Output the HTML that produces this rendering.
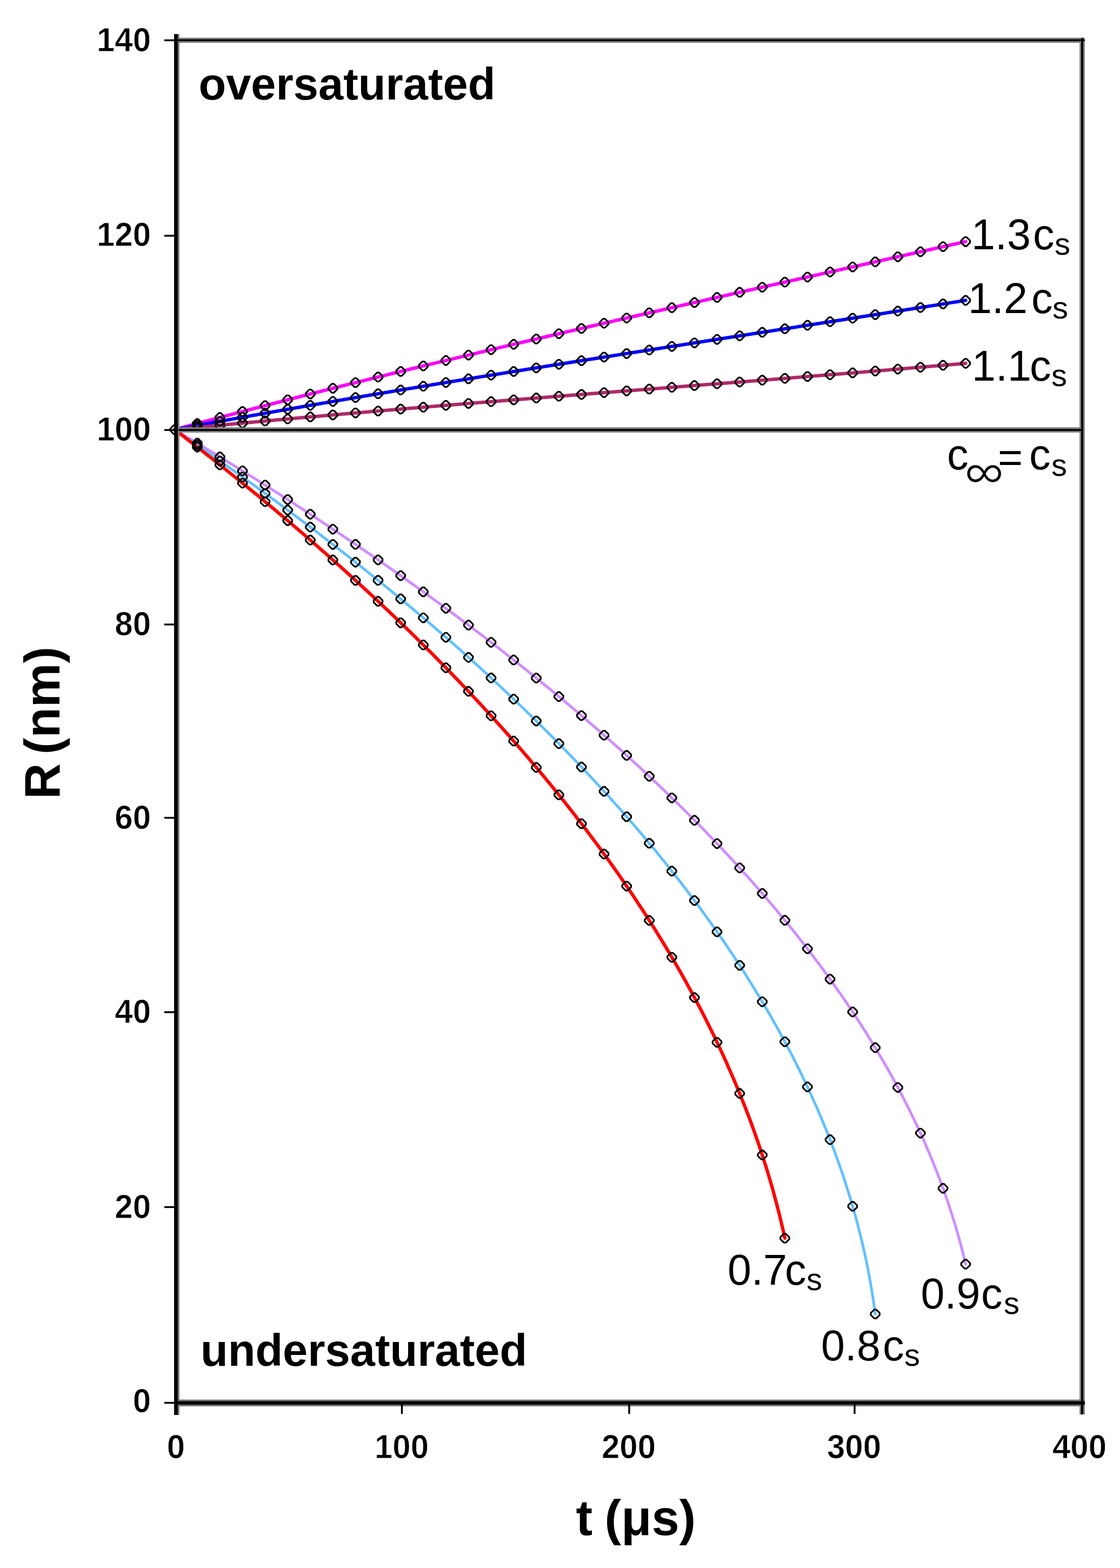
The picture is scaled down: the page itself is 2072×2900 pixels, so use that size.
<!DOCTYPE html><html><head><meta charset="utf-8"><title>R vs t</title><style>html,body{margin:0;padding:0;background:#fff;}svg{display:block;}</style></head><body><svg width="2072" height="2900" viewBox="0 0 2072 2900">
<rect x="0" y="0" width="2072" height="2900" fill="#fff"/>
<polyline points="323.2,794.6 325.3,794.0 327.4,793.5 329.5,792.9 331.6,792.3 333.7,791.8 335.7,791.2 337.8,790.6 339.9,790.1 342.0,789.5 344.1,788.9 346.2,788.4 348.3,787.8 350.4,787.2 352.5,786.7 354.6,786.1 356.6,785.5 358.7,785.0 360.8,784.4 362.9,783.9 365.0,783.3 367.1,782.7 369.2,782.2 371.3,781.6 373.4,781.1 375.5,780.5 377.5,779.9 379.6,779.4 381.7,778.8 383.8,778.3 385.9,777.7 388.0,777.1 390.1,776.6 392.2,776.0 394.3,775.5 396.4,774.9 398.5,774.4 400.5,773.8 402.6,773.2 404.7,772.7 406.8,772.1 408.9,771.6 411.0,771.0 413.1,770.5 415.2,769.9 417.3,769.4 419.4,768.8 421.4,768.3 423.5,767.7 425.6,767.2 427.7,766.6 429.8,766.0 431.9,765.5 434.0,764.9 436.1,764.4 438.2,763.8 440.3,763.3 442.3,762.7 444.4,762.2 446.5,761.6 448.6,761.1 450.7,760.5 452.8,760.0 454.9,759.5 457.0,758.9 459.1,758.4 461.2,757.8 463.3,757.3 465.3,756.7 467.4,756.2 469.5,755.6 471.6,755.1 473.7,754.5 475.8,754.0 477.9,753.4 480.0,752.9 482.1,752.4 484.2,751.8 486.2,751.3 488.3,750.7 490.4,750.2 492.5,749.6 494.6,749.1 496.7,748.6 498.8,748.0 500.9,747.5 503.0,746.9 505.1,746.4 507.1,745.9 509.2,745.3 511.3,744.8 513.4,744.2 515.5,743.7 517.6,743.2 519.7,742.6 521.8,742.1 523.9,741.5 526.0,741.0 528.0,740.5 530.1,739.9 532.2,739.4 534.3,738.9 536.4,738.3 538.5,737.8 540.6,737.2 542.7,736.7 544.8,736.2 546.9,735.6 549.0,735.1 551.0,734.6 553.1,734.0 555.2,733.5 557.3,733.0 559.4,732.4 561.5,731.9 563.6,731.4 565.7,730.8 567.8,730.3 569.9,729.8 571.9,729.2 574.0,728.7 576.1,728.2 578.2,727.7 580.3,727.1 582.4,726.6 584.5,726.1 586.6,725.5 588.7,725.0 590.8,724.5 592.8,723.9 594.9,723.4 597.0,722.9 599.1,722.4 601.2,721.8 603.3,721.3 605.4,720.8 607.5,720.2 609.6,719.7 611.7,719.2 613.8,718.7 615.8,718.1 617.9,717.6 620.0,717.1 622.1,716.6 624.2,716.0 626.3,715.5 628.4,715.0 630.5,714.5 632.6,713.9 634.7,713.4 636.7,712.9 638.8,712.4 640.9,711.8 643.0,711.3 645.1,710.8 647.2,710.3 649.3,709.8 651.4,709.2 653.5,708.7 655.6,708.2 657.6,707.7 659.7,707.2 661.8,706.6 663.9,706.1 666.0,705.6 668.1,705.1 670.2,704.6 672.3,704.0 674.4,703.5 676.5,703.0 678.6,702.5 680.6,702.0 682.7,701.4 684.8,700.9 686.9,700.4 689.0,699.9 691.1,699.4 693.2,698.9 695.3,698.3 697.4,697.8 699.5,697.3 701.5,696.8 703.6,696.3 705.7,695.8 707.8,695.2 709.9,694.7 712.0,694.2 714.1,693.7 716.2,693.2 718.3,692.7 720.4,692.1 722.4,691.6 724.5,691.1 726.6,690.6 728.7,690.1 730.8,689.6 732.9,689.1 735.0,688.6 737.1,688.0 739.2,687.5 741.3,687.0 743.4,686.5 745.4,686.0 747.5,685.5 749.6,685.0 751.7,684.5 753.8,684.0 755.9,683.4 758.0,682.9 760.1,682.4 762.2,681.9 764.3,681.4 766.3,680.9 768.4,680.4 770.5,679.9 772.6,679.4 774.7,678.9 776.8,678.3 778.9,677.8 781.0,677.3 783.1,676.8 785.2,676.3 787.2,675.8 789.3,675.3 791.4,674.8 793.5,674.3 795.6,673.8 797.7,673.3 799.8,672.8 801.9,672.3 804.0,671.8 806.1,671.3 808.1,670.7 810.2,670.2 812.3,669.7 814.4,669.2 816.5,668.7 818.6,668.2 820.7,667.7 822.8,667.2 824.9,666.7 827.0,666.2 829.1,665.7 831.1,665.2 833.2,664.7 835.3,664.2 837.4,663.7 839.5,663.2 841.6,662.7 843.7,662.2 845.8,661.7 847.9,661.2 850.0,660.7 852.0,660.2 854.1,659.7 856.2,659.2 858.3,658.7 860.4,658.2 862.5,657.7 864.6,657.2 866.7,656.7 868.8,656.2 870.9,655.7 872.9,655.2 875.0,654.7 877.1,654.2 879.2,653.7 881.3,653.2 883.4,652.7 885.5,652.2 887.6,651.7 889.7,651.2 891.8,650.7 893.9,650.2 895.9,649.7 898.0,649.2 900.1,648.7 902.2,648.2 904.3,647.7 906.4,647.2 908.5,646.7 910.6,646.2 912.7,645.7 914.8,645.2 916.8,644.7 918.9,644.2 921.0,643.7 923.1,643.2 925.2,642.7 927.3,642.2 929.4,641.8 931.5,641.3 933.6,640.8 935.7,640.3 937.7,639.8 939.8,639.3 941.9,638.8 944.0,638.3 946.1,637.8 948.2,637.3 950.3,636.8 952.4,636.3 954.5,635.8 956.6,635.3 958.7,634.8 960.7,634.3 962.8,633.9 964.9,633.4 967.0,632.9 969.1,632.4 971.2,631.9 973.3,631.4 975.4,630.9 977.5,630.4 979.6,629.9 981.6,629.4 983.7,628.9 985.8,628.5 987.9,628.0 990.0,627.5 992.1,627.0 994.2,626.5 996.3,626.0 998.4,625.5 1000.5,625.0 1002.5,624.5 1004.6,624.0 1006.7,623.6 1008.8,623.1 1010.9,622.6 1013.0,622.1 1015.1,621.6 1017.2,621.1 1019.3,620.6 1021.4,620.1 1023.5,619.6 1025.5,619.2 1027.6,618.7 1029.7,618.2 1031.8,617.7 1033.9,617.2 1036.0,616.7 1038.1,616.2 1040.2,615.7 1042.3,615.3 1044.4,614.8 1046.4,614.3 1048.5,613.8 1050.6,613.3 1052.7,612.8 1054.8,612.3 1056.9,611.9 1059.0,611.4 1061.1,610.9 1063.2,610.4 1065.3,609.9 1067.3,609.4 1069.4,608.9 1071.5,608.5 1073.6,608.0 1075.7,607.5 1077.8,607.0 1079.9,606.5 1082.0,606.0 1084.1,605.5 1086.2,605.1 1088.2,604.6 1090.3,604.1 1092.4,603.6 1094.5,603.1 1096.6,602.6 1098.7,602.2 1100.8,601.7 1102.9,601.2 1105.0,600.7 1107.1,600.2 1109.2,599.7 1111.2,599.3 1113.3,598.8 1115.4,598.3 1117.5,597.8 1119.6,597.3 1121.7,596.9 1123.8,596.4 1125.9,595.9 1128.0,595.4 1130.1,594.9 1132.1,594.4 1134.2,594.0 1136.3,593.5 1138.4,593.0 1140.5,592.5 1142.6,592.0 1144.7,591.6 1146.8,591.1 1148.9,590.6 1151.0,590.1 1153.0,589.6 1155.1,589.2 1157.2,588.7 1159.3,588.2 1161.4,587.7 1163.5,587.2 1165.6,586.8 1167.7,586.3 1169.8,585.8 1171.9,585.3 1174.0,584.8 1176.0,584.4 1178.1,583.9 1180.2,583.4 1182.3,582.9 1184.4,582.4 1186.5,582.0 1188.6,581.5 1190.7,581.0 1192.8,580.5 1194.9,580.0 1196.9,579.6 1199.0,579.1 1201.1,578.6 1203.2,578.1 1205.3,577.7 1207.4,577.2 1209.5,576.7 1211.6,576.2 1213.7,575.7 1215.8,575.3 1217.8,574.8 1219.9,574.3 1222.0,573.8 1224.1,573.4 1226.2,572.9 1228.3,572.4 1230.4,571.9 1232.5,571.5 1234.6,571.0 1236.7,570.5 1238.8,570.0 1240.8,569.5 1242.9,569.1 1245.0,568.6 1247.1,568.1 1249.2,567.6 1251.3,567.2 1253.4,566.7 1255.5,566.2 1257.6,565.7 1259.7,565.3 1261.7,564.8 1263.8,564.3 1265.9,563.8 1268.0,563.4 1270.1,562.9 1272.2,562.4 1274.3,561.9 1276.4,561.5 1278.5,561.0 1280.6,560.5 1282.6,560.0 1284.7,559.6 1286.8,559.1 1288.9,558.6 1291.0,558.1 1293.1,557.7 1295.2,557.2 1297.3,556.7 1299.4,556.2 1301.5,555.8 1303.6,555.3 1305.6,554.8 1307.7,554.3 1309.8,553.9 1311.9,553.4 1314.0,552.9 1316.1,552.5 1318.2,552.0 1320.3,551.5 1322.4,551.0 1324.5,550.6 1326.5,550.1 1328.6,549.6 1330.7,549.1 1332.8,548.7 1334.9,548.2 1337.0,547.7 1339.1,547.3 1341.2,546.8 1343.3,546.3 1345.4,545.8 1347.4,545.4 1349.5,544.9 1351.6,544.4 1353.7,543.9 1355.8,543.5 1357.9,543.0 1360.0,542.5 1362.1,542.1 1364.2,541.6 1366.3,541.1 1368.4,540.6 1370.4,540.2 1372.5,539.7 1374.6,539.2 1376.7,538.8 1378.8,538.3 1380.9,537.8 1383.0,537.3 1385.1,536.9 1387.2,536.4 1389.3,535.9 1391.3,535.5 1393.4,535.0 1395.5,534.5 1397.6,534.0 1399.7,533.6 1401.8,533.1 1403.9,532.6 1406.0,532.2 1408.1,531.7 1410.2,531.2 1412.2,530.7 1414.3,530.3 1416.4,529.8 1418.5,529.3 1420.6,528.9 1422.7,528.4 1424.8,527.9 1426.9,527.4 1429.0,527.0 1431.1,526.5 1433.1,526.0 1435.2,525.6 1437.3,525.1 1439.4,524.6 1441.5,524.2 1443.6,523.7 1445.7,523.2 1447.8,522.7 1449.9,522.3 1452.0,521.8 1454.1,521.3 1456.1,520.9 1458.2,520.4 1460.3,519.9 1462.4,519.5 1464.5,519.0 1466.6,518.5 1468.7,518.0 1470.8,517.6 1472.9,517.1 1475.0,516.6 1477.0,516.2 1479.1,515.7 1481.2,515.2 1483.3,514.8 1485.4,514.3 1487.5,513.8 1489.6,513.4 1491.7,512.9 1493.8,512.4 1495.9,511.9 1497.9,511.5 1500.0,511.0 1502.1,510.5 1504.2,510.1 1506.3,509.6 1508.4,509.1 1510.5,508.7 1512.6,508.2 1514.7,507.7 1516.8,507.3 1518.9,506.8 1520.9,506.3 1523.0,505.8 1525.1,505.4 1527.2,504.9 1529.3,504.4 1531.4,504.0 1533.5,503.5 1535.6,503.0 1537.7,502.6 1539.8,502.1 1541.8,501.6 1543.9,501.2 1546.0,500.7 1548.1,500.2 1550.2,499.8 1552.3,499.3 1554.4,498.8 1556.5,498.4 1558.6,497.9 1560.7,497.4 1562.7,496.9 1564.8,496.5 1566.9,496.0 1569.0,495.5 1571.1,495.1 1573.2,494.6 1575.3,494.1 1577.4,493.7 1579.5,493.2 1581.6,492.7 1583.7,492.3 1585.7,491.8 1587.8,491.3 1589.9,490.9 1592.0,490.4 1594.1,489.9 1596.2,489.5 1598.3,489.0 1600.4,488.5 1602.5,488.0 1604.6,487.6 1606.6,487.1 1608.7,486.6 1610.8,486.2 1612.9,485.7 1615.0,485.2 1617.1,484.8 1619.2,484.3 1621.3,483.8 1623.4,483.4 1625.5,482.9 1627.5,482.4 1629.6,482.0 1631.7,481.5 1633.8,481.0 1635.9,480.6 1638.0,480.1 1640.1,479.6 1642.2,479.2 1644.3,478.7 1646.4,478.2 1648.5,477.8 1650.5,477.3 1652.6,476.8 1654.7,476.3 1656.8,475.9 1658.9,475.4 1661.0,474.9 1663.1,474.5 1665.2,474.0 1667.3,473.5 1669.4,473.1 1671.4,472.6 1673.5,472.1 1675.6,471.7 1677.7,471.2 1679.8,470.7 1681.9,470.3 1684.0,469.8 1686.1,469.3 1688.2,468.9 1690.3,468.4 1692.3,467.9 1694.4,467.5 1696.5,467.0 1698.6,466.5 1700.7,466.1 1702.8,465.6 1704.9,465.1 1707.0,464.6 1709.1,464.2 1711.2,463.7 1713.2,463.2 1715.3,462.8 1717.4,462.3 1719.5,461.8 1721.6,461.4 1723.7,460.9 1725.8,460.4 1727.9,460.0 1730.0,459.5 1732.1,459.0 1734.2,458.6 1736.2,458.1 1738.3,457.6 1740.4,457.2 1742.5,456.7 1744.6,456.2 1746.7,455.8 1748.8,455.3 1750.9,454.8 1753.0,454.3 1755.1,453.9 1757.1,453.4 1759.2,452.9 1761.3,452.5 1763.4,452.0 1765.5,451.5 1767.6,451.1 1769.7,450.6 1771.8,450.1 1773.9,449.7 1776.0,449.2 1778.0,448.7 1780.1,448.3 1782.2,447.8 1784.3,447.3 1786.4,446.9" fill="none" stroke="#FF00FF" stroke-width="6.3" stroke-linejoin="round" stroke-linecap="round"/>
<polyline points="323.2,794.6 325.3,794.2 327.4,793.8 329.5,793.4 331.6,793.0 333.7,792.7 335.7,792.3 337.8,791.9 339.9,791.5 342.0,791.1 344.1,790.7 346.2,790.3 348.3,790.0 350.4,789.6 352.5,789.2 354.6,788.8 356.6,788.4 358.7,788.0 360.8,787.6 362.9,787.3 365.0,786.9 367.1,786.5 369.2,786.1 371.3,785.7 373.4,785.3 375.5,785.0 377.5,784.6 379.6,784.2 381.7,783.8 383.8,783.4 385.9,783.1 388.0,782.7 390.1,782.3 392.2,781.9 394.3,781.5 396.4,781.2 398.5,780.8 400.5,780.4 402.6,780.0 404.7,779.6 406.8,779.3 408.9,778.9 411.0,778.5 413.1,778.1 415.2,777.7 417.3,777.4 419.4,777.0 421.4,776.6 423.5,776.2 425.6,775.9 427.7,775.5 429.8,775.1 431.9,774.7 434.0,774.4 436.1,774.0 438.2,773.6 440.3,773.2 442.3,772.9 444.4,772.5 446.5,772.1 448.6,771.7 450.7,771.4 452.8,771.0 454.9,770.6 457.0,770.2 459.1,769.9 461.2,769.5 463.3,769.1 465.3,768.7 467.4,768.4 469.5,768.0 471.6,767.6 473.7,767.3 475.8,766.9 477.9,766.5 480.0,766.1 482.1,765.8 484.2,765.4 486.2,765.0 488.3,764.7 490.4,764.3 492.5,763.9 494.6,763.6 496.7,763.2 498.8,762.8 500.9,762.4 503.0,762.1 505.1,761.7 507.1,761.3 509.2,761.0 511.3,760.6 513.4,760.2 515.5,759.9 517.6,759.5 519.7,759.1 521.8,758.8 523.9,758.4 526.0,758.0 528.0,757.7 530.1,757.3 532.2,756.9 534.3,756.6 536.4,756.2 538.5,755.8 540.6,755.5 542.7,755.1 544.8,754.8 546.9,754.4 549.0,754.0 551.0,753.7 553.1,753.3 555.2,752.9 557.3,752.6 559.4,752.2 561.5,751.8 563.6,751.5 565.7,751.1 567.8,750.8 569.9,750.4 571.9,750.0 574.0,749.7 576.1,749.3 578.2,748.9 580.3,748.6 582.4,748.2 584.5,747.9 586.6,747.5 588.7,747.1 590.8,746.8 592.8,746.4 594.9,746.1 597.0,745.7 599.1,745.3 601.2,745.0 603.3,744.6 605.4,744.3 607.5,743.9 609.6,743.5 611.7,743.2 613.8,742.8 615.8,742.5 617.9,742.1 620.0,741.8 622.1,741.4 624.2,741.0 626.3,740.7 628.4,740.3 630.5,740.0 632.6,739.6 634.7,739.3 636.7,738.9 638.8,738.5 640.9,738.2 643.0,737.8 645.1,737.5 647.2,737.1 649.3,736.8 651.4,736.4 653.5,736.1 655.6,735.7 657.6,735.3 659.7,735.0 661.8,734.6 663.9,734.3 666.0,733.9 668.1,733.6 670.2,733.2 672.3,732.9 674.4,732.5 676.5,732.2 678.6,731.8 680.6,731.5 682.7,731.1 684.8,730.7 686.9,730.4 689.0,730.0 691.1,729.7 693.2,729.3 695.3,729.0 697.4,728.6 699.5,728.3 701.5,727.9 703.6,727.6 705.7,727.2 707.8,726.9 709.9,726.5 712.0,726.2 714.1,725.8 716.2,725.5 718.3,725.1 720.4,724.8 722.4,724.4 724.5,724.1 726.6,723.7 728.7,723.4 730.8,723.0 732.9,722.7 735.0,722.3 737.1,722.0 739.2,721.6 741.3,721.3 743.4,720.9 745.4,720.6 747.5,720.2 749.6,719.9 751.7,719.5 753.8,719.2 755.9,718.8 758.0,718.5 760.1,718.2 762.2,717.8 764.3,717.5 766.3,717.1 768.4,716.8 770.5,716.4 772.6,716.1 774.7,715.7 776.8,715.4 778.9,715.0 781.0,714.7 783.1,714.3 785.2,714.0 787.2,713.7 789.3,713.3 791.4,713.0 793.5,712.6 795.6,712.3 797.7,711.9 799.8,711.6 801.9,711.2 804.0,710.9 806.1,710.6 808.1,710.2 810.2,709.9 812.3,709.5 814.4,709.2 816.5,708.8 818.6,708.5 820.7,708.1 822.8,707.8 824.9,707.5 827.0,707.1 829.1,706.8 831.1,706.4 833.2,706.1 835.3,705.7 837.4,705.4 839.5,705.1 841.6,704.7 843.7,704.4 845.8,704.0 847.9,703.7 850.0,703.4 852.0,703.0 854.1,702.7 856.2,702.3 858.3,702.0 860.4,701.6 862.5,701.3 864.6,701.0 866.7,700.6 868.8,700.3 870.9,699.9 872.9,699.6 875.0,699.3 877.1,698.9 879.2,698.6 881.3,698.2 883.4,697.9 885.5,697.6 887.6,697.2 889.7,696.9 891.8,696.5 893.9,696.2 895.9,695.9 898.0,695.5 900.1,695.2 902.2,694.9 904.3,694.5 906.4,694.2 908.5,693.8 910.6,693.5 912.7,693.2 914.8,692.8 916.8,692.5 918.9,692.1 921.0,691.8 923.1,691.5 925.2,691.1 927.3,690.8 929.4,690.5 931.5,690.1 933.6,689.8 935.7,689.4 937.7,689.1 939.8,688.8 941.9,688.4 944.0,688.1 946.1,687.8 948.2,687.4 950.3,687.1 952.4,686.8 954.5,686.4 956.6,686.1 958.7,685.7 960.7,685.4 962.8,685.1 964.9,684.7 967.0,684.4 969.1,684.1 971.2,683.7 973.3,683.4 975.4,683.1 977.5,682.7 979.6,682.4 981.6,682.1 983.7,681.7 985.8,681.4 987.9,681.0 990.0,680.7 992.1,680.4 994.2,680.0 996.3,679.7 998.4,679.4 1000.5,679.0 1002.5,678.7 1004.6,678.4 1006.7,678.0 1008.8,677.7 1010.9,677.4 1013.0,677.0 1015.1,676.7 1017.2,676.4 1019.3,676.0 1021.4,675.7 1023.5,675.4 1025.5,675.0 1027.6,674.7 1029.7,674.4 1031.8,674.0 1033.9,673.7 1036.0,673.4 1038.1,673.0 1040.2,672.7 1042.3,672.4 1044.4,672.0 1046.4,671.7 1048.5,671.4 1050.6,671.0 1052.7,670.7 1054.8,670.4 1056.9,670.0 1059.0,669.7 1061.1,669.4 1063.2,669.1 1065.3,668.7 1067.3,668.4 1069.4,668.1 1071.5,667.7 1073.6,667.4 1075.7,667.1 1077.8,666.7 1079.9,666.4 1082.0,666.1 1084.1,665.7 1086.2,665.4 1088.2,665.1 1090.3,664.7 1092.4,664.4 1094.5,664.1 1096.6,663.8 1098.7,663.4 1100.8,663.1 1102.9,662.8 1105.0,662.4 1107.1,662.1 1109.2,661.8 1111.2,661.4 1113.3,661.1 1115.4,660.8 1117.5,660.4 1119.6,660.1 1121.7,659.8 1123.8,659.5 1125.9,659.1 1128.0,658.8 1130.1,658.5 1132.1,658.1 1134.2,657.8 1136.3,657.5 1138.4,657.2 1140.5,656.8 1142.6,656.5 1144.7,656.2 1146.8,655.8 1148.9,655.5 1151.0,655.2 1153.0,654.8 1155.1,654.5 1157.2,654.2 1159.3,653.9 1161.4,653.5 1163.5,653.2 1165.6,652.9 1167.7,652.5 1169.8,652.2 1171.9,651.9 1174.0,651.6 1176.0,651.2 1178.1,650.9 1180.2,650.6 1182.3,650.2 1184.4,649.9 1186.5,649.6 1188.6,649.3 1190.7,648.9 1192.8,648.6 1194.9,648.3 1196.9,647.9 1199.0,647.6 1201.1,647.3 1203.2,647.0 1205.3,646.6 1207.4,646.3 1209.5,646.0 1211.6,645.6 1213.7,645.3 1215.8,645.0 1217.8,644.7 1219.9,644.3 1222.0,644.0 1224.1,643.7 1226.2,643.4 1228.3,643.0 1230.4,642.7 1232.5,642.4 1234.6,642.0 1236.7,641.7 1238.8,641.4 1240.8,641.1 1242.9,640.7 1245.0,640.4 1247.1,640.1 1249.2,639.7 1251.3,639.4 1253.4,639.1 1255.5,638.8 1257.6,638.4 1259.7,638.1 1261.7,637.8 1263.8,637.5 1265.9,637.1 1268.0,636.8 1270.1,636.5 1272.2,636.2 1274.3,635.8 1276.4,635.5 1278.5,635.2 1280.6,634.8 1282.6,634.5 1284.7,634.2 1286.8,633.9 1288.9,633.5 1291.0,633.2 1293.1,632.9 1295.2,632.6 1297.3,632.2 1299.4,631.9 1301.5,631.6 1303.6,631.2 1305.6,630.9 1307.7,630.6 1309.8,630.3 1311.9,629.9 1314.0,629.6 1316.1,629.3 1318.2,629.0 1320.3,628.6 1322.4,628.3 1324.5,628.0 1326.5,627.7 1328.6,627.3 1330.7,627.0 1332.8,626.7 1334.9,626.4 1337.0,626.0 1339.1,625.7 1341.2,625.4 1343.3,625.0 1345.4,624.7 1347.4,624.4 1349.5,624.1 1351.6,623.7 1353.7,623.4 1355.8,623.1 1357.9,622.8 1360.0,622.4 1362.1,622.1 1364.2,621.8 1366.3,621.5 1368.4,621.1 1370.4,620.8 1372.5,620.5 1374.6,620.2 1376.7,619.8 1378.8,619.5 1380.9,619.2 1383.0,618.8 1385.1,618.5 1387.2,618.2 1389.3,617.9 1391.3,617.5 1393.4,617.2 1395.5,616.9 1397.6,616.6 1399.7,616.2 1401.8,615.9 1403.9,615.6 1406.0,615.3 1408.1,614.9 1410.2,614.6 1412.2,614.3 1414.3,614.0 1416.4,613.6 1418.5,613.3 1420.6,613.0 1422.7,612.7 1424.8,612.3 1426.9,612.0 1429.0,611.7 1431.1,611.3 1433.1,611.0 1435.2,610.7 1437.3,610.4 1439.4,610.0 1441.5,609.7 1443.6,609.4 1445.7,609.1 1447.8,608.7 1449.9,608.4 1452.0,608.1 1454.1,607.8 1456.1,607.4 1458.2,607.1 1460.3,606.8 1462.4,606.5 1464.5,606.1 1466.6,605.8 1468.7,605.5 1470.8,605.1 1472.9,604.8 1475.0,604.5 1477.0,604.2 1479.1,603.8 1481.2,603.5 1483.3,603.2 1485.4,602.9 1487.5,602.5 1489.6,602.2 1491.7,601.9 1493.8,601.6 1495.9,601.2 1497.9,600.9 1500.0,600.6 1502.1,600.3 1504.2,599.9 1506.3,599.6 1508.4,599.3 1510.5,598.9 1512.6,598.6 1514.7,598.3 1516.8,598.0 1518.9,597.6 1520.9,597.3 1523.0,597.0 1525.1,596.7 1527.2,596.3 1529.3,596.0 1531.4,595.7 1533.5,595.4 1535.6,595.0 1537.7,594.7 1539.8,594.4 1541.8,594.0 1543.9,593.7 1546.0,593.4 1548.1,593.1 1550.2,592.7 1552.3,592.4 1554.4,592.1 1556.5,591.8 1558.6,591.4 1560.7,591.1 1562.7,590.8 1564.8,590.4 1566.9,590.1 1569.0,589.8 1571.1,589.5 1573.2,589.1 1575.3,588.8 1577.4,588.5 1579.5,588.2 1581.6,587.8 1583.7,587.5 1585.7,587.2 1587.8,586.8 1589.9,586.5 1592.0,586.2 1594.1,585.9 1596.2,585.5 1598.3,585.2 1600.4,584.9 1602.5,584.5 1604.6,584.2 1606.6,583.9 1608.7,583.6 1610.8,583.2 1612.9,582.9 1615.0,582.6 1617.1,582.3 1619.2,581.9 1621.3,581.6 1623.4,581.3 1625.5,580.9 1627.5,580.6 1629.6,580.3 1631.7,580.0 1633.8,579.6 1635.9,579.3 1638.0,579.0 1640.1,578.6 1642.2,578.3 1644.3,578.0 1646.4,577.7 1648.5,577.3 1650.5,577.0 1652.6,576.7 1654.7,576.3 1656.8,576.0 1658.9,575.7 1661.0,575.3 1663.1,575.0 1665.2,574.7 1667.3,574.4 1669.4,574.0 1671.4,573.7 1673.5,573.4 1675.6,573.0 1677.7,572.7 1679.8,572.4 1681.9,572.1 1684.0,571.7 1686.1,571.4 1688.2,571.1 1690.3,570.7 1692.3,570.4 1694.4,570.1 1696.5,569.7 1698.6,569.4 1700.7,569.1 1702.8,568.8 1704.9,568.4 1707.0,568.1 1709.1,567.8 1711.2,567.4 1713.2,567.1 1715.3,566.8 1717.4,566.4 1719.5,566.1 1721.6,565.8 1723.7,565.5 1725.8,565.1 1727.9,564.8 1730.0,564.5 1732.1,564.1 1734.2,563.8 1736.2,563.5 1738.3,563.1 1740.4,562.8 1742.5,562.5 1744.6,562.1 1746.7,561.8 1748.8,561.5 1750.9,561.1 1753.0,560.8 1755.1,560.5 1757.1,560.2 1759.2,559.8 1761.3,559.5 1763.4,559.2 1765.5,558.8 1767.6,558.5 1769.7,558.2 1771.8,557.8 1773.9,557.5 1776.0,557.2 1778.0,556.8 1780.1,556.5 1782.2,556.2 1784.3,555.8 1786.4,555.5" fill="none" stroke="#0000FF" stroke-width="6.3" stroke-linejoin="round" stroke-linecap="round"/>
<polyline points="323.2,794.6 325.3,794.4 327.4,794.2 329.5,794.0 331.6,793.8 333.7,793.6 335.7,793.4 337.8,793.2 339.9,792.9 342.0,792.7 344.1,792.5 346.2,792.3 348.3,792.1 350.4,791.9 352.5,791.7 354.6,791.5 356.6,791.3 358.7,791.1 360.8,790.9 362.9,790.7 365.0,790.5 367.1,790.3 369.2,790.1 371.3,789.9 373.4,789.7 375.5,789.5 377.5,789.3 379.6,789.1 381.7,788.9 383.8,788.7 385.9,788.5 388.0,788.3 390.1,788.1 392.2,787.9 394.3,787.7 396.4,787.5 398.5,787.3 400.5,787.1 402.6,786.9 404.7,786.7 406.8,786.5 408.9,786.3 411.0,786.1 413.1,785.9 415.2,785.7 417.3,785.5 419.4,785.3 421.4,785.1 423.5,784.9 425.6,784.7 427.7,784.5 429.8,784.3 431.9,784.1 434.0,783.9 436.1,783.7 438.2,783.5 440.3,783.3 442.3,783.1 444.4,782.9 446.5,782.7 448.6,782.5 450.7,782.3 452.8,782.1 454.9,781.9 457.0,781.7 459.1,781.5 461.2,781.3 463.3,781.1 465.3,781.0 467.4,780.8 469.5,780.6 471.6,780.4 473.7,780.2 475.8,780.0 477.9,779.8 480.0,779.6 482.1,779.4 484.2,779.2 486.2,779.0 488.3,778.8 490.4,778.6 492.5,778.4 494.6,778.2 496.7,778.1 498.8,777.9 500.9,777.7 503.0,777.5 505.1,777.3 507.1,777.1 509.2,776.9 511.3,776.7 513.4,776.5 515.5,776.3 517.6,776.1 519.7,776.0 521.8,775.8 523.9,775.6 526.0,775.4 528.0,775.2 530.1,775.0 532.2,774.8 534.3,774.6 536.4,774.4 538.5,774.3 540.6,774.1 542.7,773.9 544.8,773.7 546.9,773.5 549.0,773.3 551.0,773.1 553.1,772.9 555.2,772.7 557.3,772.6 559.4,772.4 561.5,772.2 563.6,772.0 565.7,771.8 567.8,771.6 569.9,771.4 571.9,771.3 574.0,771.1 576.1,770.9 578.2,770.7 580.3,770.5 582.4,770.3 584.5,770.1 586.6,770.0 588.7,769.8 590.8,769.6 592.8,769.4 594.9,769.2 597.0,769.0 599.1,768.8 601.2,768.7 603.3,768.5 605.4,768.3 607.5,768.1 609.6,767.9 611.7,767.7 613.8,767.6 615.8,767.4 617.9,767.2 620.0,767.0 622.1,766.8 624.2,766.6 626.3,766.5 628.4,766.3 630.5,766.1 632.6,765.9 634.7,765.7 636.7,765.6 638.8,765.4 640.9,765.2 643.0,765.0 645.1,764.8 647.2,764.6 649.3,764.5 651.4,764.3 653.5,764.1 655.6,763.9 657.6,763.7 659.7,763.6 661.8,763.4 663.9,763.2 666.0,763.0 668.1,762.8 670.2,762.7 672.3,762.5 674.4,762.3 676.5,762.1 678.6,761.9 680.6,761.8 682.7,761.6 684.8,761.4 686.9,761.2 689.0,761.0 691.1,760.9 693.2,760.7 695.3,760.5 697.4,760.3 699.5,760.2 701.5,760.0 703.6,759.8 705.7,759.6 707.8,759.4 709.9,759.3 712.0,759.1 714.1,758.9 716.2,758.7 718.3,758.6 720.4,758.4 722.4,758.2 724.5,758.0 726.6,757.9 728.7,757.7 730.8,757.5 732.9,757.3 735.0,757.1 737.1,757.0 739.2,756.8 741.3,756.6 743.4,756.4 745.4,756.3 747.5,756.1 749.6,755.9 751.7,755.7 753.8,755.6 755.9,755.4 758.0,755.2 760.1,755.0 762.2,754.9 764.3,754.7 766.3,754.5 768.4,754.3 770.5,754.2 772.6,754.0 774.7,753.8 776.8,753.6 778.9,753.5 781.0,753.3 783.1,753.1 785.2,752.9 787.2,752.8 789.3,752.6 791.4,752.4 793.5,752.3 795.6,752.1 797.7,751.9 799.8,751.7 801.9,751.6 804.0,751.4 806.1,751.2 808.1,751.0 810.2,750.9 812.3,750.7 814.4,750.5 816.5,750.4 818.6,750.2 820.7,750.0 822.8,749.8 824.9,749.7 827.0,749.5 829.1,749.3 831.1,749.1 833.2,749.0 835.3,748.8 837.4,748.6 839.5,748.5 841.6,748.3 843.7,748.1 845.8,747.9 847.9,747.8 850.0,747.6 852.0,747.4 854.1,747.3 856.2,747.1 858.3,746.9 860.4,746.8 862.5,746.6 864.6,746.4 866.7,746.2 868.8,746.1 870.9,745.9 872.9,745.7 875.0,745.6 877.1,745.4 879.2,745.2 881.3,745.1 883.4,744.9 885.5,744.7 887.6,744.5 889.7,744.4 891.8,744.2 893.9,744.0 895.9,743.9 898.0,743.7 900.1,743.5 902.2,743.4 904.3,743.2 906.4,743.0 908.5,742.8 910.6,742.7 912.7,742.5 914.8,742.3 916.8,742.2 918.9,742.0 921.0,741.8 923.1,741.7 925.2,741.5 927.3,741.3 929.4,741.2 931.5,741.0 933.6,740.8 935.7,740.7 937.7,740.5 939.8,740.3 941.9,740.2 944.0,740.0 946.1,739.8 948.2,739.6 950.3,739.5 952.4,739.3 954.5,739.1 956.6,739.0 958.7,738.8 960.7,738.6 962.8,738.5 964.9,738.3 967.0,738.1 969.1,738.0 971.2,737.8 973.3,737.6 975.4,737.5 977.5,737.3 979.6,737.1 981.6,737.0 983.7,736.8 985.8,736.6 987.9,736.5 990.0,736.3 992.1,736.1 994.2,736.0 996.3,735.8 998.4,735.6 1000.5,735.5 1002.5,735.3 1004.6,735.1 1006.7,735.0 1008.8,734.8 1010.9,734.6 1013.0,734.5 1015.1,734.3 1017.2,734.1 1019.3,734.0 1021.4,733.8 1023.5,733.6 1025.5,733.5 1027.6,733.3 1029.7,733.1 1031.8,733.0 1033.9,732.8 1036.0,732.6 1038.1,732.5 1040.2,732.3 1042.3,732.2 1044.4,732.0 1046.4,731.8 1048.5,731.7 1050.6,731.5 1052.7,731.3 1054.8,731.2 1056.9,731.0 1059.0,730.8 1061.1,730.7 1063.2,730.5 1065.3,730.3 1067.3,730.2 1069.4,730.0 1071.5,729.8 1073.6,729.7 1075.7,729.5 1077.8,729.3 1079.9,729.2 1082.0,729.0 1084.1,728.8 1086.2,728.7 1088.2,728.5 1090.3,728.4 1092.4,728.2 1094.5,728.0 1096.6,727.9 1098.7,727.7 1100.8,727.5 1102.9,727.4 1105.0,727.2 1107.1,727.0 1109.2,726.9 1111.2,726.7 1113.3,726.5 1115.4,726.4 1117.5,726.2 1119.6,726.0 1121.7,725.9 1123.8,725.7 1125.9,725.5 1128.0,725.4 1130.1,725.2 1132.1,725.1 1134.2,724.9 1136.3,724.7 1138.4,724.6 1140.5,724.4 1142.6,724.2 1144.7,724.1 1146.8,723.9 1148.9,723.7 1151.0,723.6 1153.0,723.4 1155.1,723.2 1157.2,723.1 1159.3,722.9 1161.4,722.8 1163.5,722.6 1165.6,722.4 1167.7,722.3 1169.8,722.1 1171.9,721.9 1174.0,721.8 1176.0,721.6 1178.1,721.4 1180.2,721.3 1182.3,721.1 1184.4,720.9 1186.5,720.8 1188.6,720.6 1190.7,720.5 1192.8,720.3 1194.9,720.1 1196.9,720.0 1199.0,719.8 1201.1,719.6 1203.2,719.5 1205.3,719.3 1207.4,719.1 1209.5,719.0 1211.6,718.8 1213.7,718.6 1215.8,718.5 1217.8,718.3 1219.9,718.2 1222.0,718.0 1224.1,717.8 1226.2,717.7 1228.3,717.5 1230.4,717.3 1232.5,717.2 1234.6,717.0 1236.7,716.8 1238.8,716.7 1240.8,716.5 1242.9,716.3 1245.0,716.2 1247.1,716.0 1249.2,715.9 1251.3,715.7 1253.4,715.5 1255.5,715.4 1257.6,715.2 1259.7,715.0 1261.7,714.9 1263.8,714.7 1265.9,714.5 1268.0,714.4 1270.1,714.2 1272.2,714.0 1274.3,713.9 1276.4,713.7 1278.5,713.6 1280.6,713.4 1282.6,713.2 1284.7,713.1 1286.8,712.9 1288.9,712.7 1291.0,712.6 1293.1,712.4 1295.2,712.2 1297.3,712.1 1299.4,711.9 1301.5,711.7 1303.6,711.6 1305.6,711.4 1307.7,711.2 1309.8,711.1 1311.9,710.9 1314.0,710.7 1316.1,710.6 1318.2,710.4 1320.3,710.3 1322.4,710.1 1324.5,709.9 1326.5,709.8 1328.6,709.6 1330.7,709.4 1332.8,709.3 1334.9,709.1 1337.0,708.9 1339.1,708.8 1341.2,708.6 1343.3,708.4 1345.4,708.3 1347.4,708.1 1349.5,707.9 1351.6,707.8 1353.7,707.6 1355.8,707.4 1357.9,707.3 1360.0,707.1 1362.1,706.9 1364.2,706.8 1366.3,706.6 1368.4,706.5 1370.4,706.3 1372.5,706.1 1374.6,706.0 1376.7,705.8 1378.8,705.6 1380.9,705.5 1383.0,705.3 1385.1,705.1 1387.2,705.0 1389.3,704.8 1391.3,704.6 1393.4,704.5 1395.5,704.3 1397.6,704.1 1399.7,704.0 1401.8,703.8 1403.9,703.6 1406.0,703.5 1408.1,703.3 1410.2,703.1 1412.2,703.0 1414.3,702.8 1416.4,702.6 1418.5,702.5 1420.6,702.3 1422.7,702.1 1424.8,702.0 1426.9,701.8 1429.0,701.6 1431.1,701.5 1433.1,701.3 1435.2,701.1 1437.3,701.0 1439.4,700.8 1441.5,700.6 1443.6,700.5 1445.7,700.3 1447.8,700.1 1449.9,700.0 1452.0,699.8 1454.1,699.6 1456.1,699.5 1458.2,699.3 1460.3,699.1 1462.4,699.0 1464.5,698.8 1466.6,698.6 1468.7,698.4 1470.8,698.3 1472.9,698.1 1475.0,697.9 1477.0,697.8 1479.1,697.6 1481.2,697.4 1483.3,697.3 1485.4,697.1 1487.5,696.9 1489.6,696.8 1491.7,696.6 1493.8,696.4 1495.9,696.3 1497.9,696.1 1500.0,695.9 1502.1,695.8 1504.2,695.6 1506.3,695.4 1508.4,695.2 1510.5,695.1 1512.6,694.9 1514.7,694.7 1516.8,694.6 1518.9,694.4 1520.9,694.2 1523.0,694.1 1525.1,693.9 1527.2,693.7 1529.3,693.6 1531.4,693.4 1533.5,693.2 1535.6,693.0 1537.7,692.9 1539.8,692.7 1541.8,692.5 1543.9,692.4 1546.0,692.2 1548.1,692.0 1550.2,691.8 1552.3,691.7 1554.4,691.5 1556.5,691.3 1558.6,691.2 1560.7,691.0 1562.7,690.8 1564.8,690.7 1566.9,690.5 1569.0,690.3 1571.1,690.1 1573.2,690.0 1575.3,689.8 1577.4,689.6 1579.5,689.5 1581.6,689.3 1583.7,689.1 1585.7,688.9 1587.8,688.8 1589.9,688.6 1592.0,688.4 1594.1,688.3 1596.2,688.1 1598.3,687.9 1600.4,687.7 1602.5,687.6 1604.6,687.4 1606.6,687.2 1608.7,687.0 1610.8,686.9 1612.9,686.7 1615.0,686.5 1617.1,686.4 1619.2,686.2 1621.3,686.0 1623.4,685.8 1625.5,685.7 1627.5,685.5 1629.6,685.3 1631.7,685.1 1633.8,685.0 1635.9,684.8 1638.0,684.6 1640.1,684.4 1642.2,684.3 1644.3,684.1 1646.4,683.9 1648.5,683.7 1650.5,683.6 1652.6,683.4 1654.7,683.2 1656.8,683.0 1658.9,682.9 1661.0,682.7 1663.1,682.5 1665.2,682.3 1667.3,682.2 1669.4,682.0 1671.4,681.8 1673.5,681.6 1675.6,681.5 1677.7,681.3 1679.8,681.1 1681.9,680.9 1684.0,680.8 1686.1,680.6 1688.2,680.4 1690.3,680.2 1692.3,680.1 1694.4,679.9 1696.5,679.7 1698.6,679.5 1700.7,679.4 1702.8,679.2 1704.9,679.0 1707.0,678.8 1709.1,678.6 1711.2,678.5 1713.2,678.3 1715.3,678.1 1717.4,677.9 1719.5,677.8 1721.6,677.6 1723.7,677.4 1725.8,677.2 1727.9,677.0 1730.0,676.9 1732.1,676.7 1734.2,676.5 1736.2,676.3 1738.3,676.1 1740.4,676.0 1742.5,675.8 1744.6,675.6 1746.7,675.4 1748.8,675.2 1750.9,675.1 1753.0,674.9 1755.1,674.7 1757.1,674.5 1759.2,674.4 1761.3,674.2 1763.4,674.0 1765.5,673.8 1767.6,673.6 1769.7,673.4 1771.8,673.3 1773.9,673.1 1776.0,672.9 1778.0,672.7 1780.1,672.5 1782.2,672.4 1784.3,672.2 1786.4,672.0" fill="none" stroke="#B02868" stroke-width="6.3" stroke-linejoin="round" stroke-linecap="round"/>
<polyline points="323.2,794.6 325.3,795.8 327.4,797.1 329.5,798.3 331.6,799.6 333.7,800.8 335.7,802.1 337.8,803.3 339.9,804.6 342.0,805.8 344.1,807.1 346.2,808.3 348.3,809.6 350.4,810.8 352.5,812.1 354.6,813.4 356.6,814.6 358.7,815.9 360.8,817.1 362.9,818.4 365.0,819.6 367.1,820.9 369.2,822.2 371.3,823.4 373.4,824.7 375.5,826.0 377.5,827.2 379.6,828.5 381.7,829.8 383.8,831.0 385.9,832.3 388.0,833.6 390.1,834.9 392.2,836.1 394.3,837.4 396.4,838.7 398.5,840.0 400.5,841.2 402.6,842.5 404.7,843.8 406.8,845.1 408.9,846.4 411.0,847.7 413.1,848.9 415.2,850.2 417.3,851.5 419.4,852.8 421.4,854.1 423.5,855.4 425.6,856.7 427.7,858.0 429.8,859.2 431.9,860.5 434.0,861.8 436.1,863.1 438.2,864.4 440.3,865.7 442.3,867.0 444.4,868.3 446.5,869.6 448.6,870.9 450.7,872.2 452.8,873.5 454.9,874.8 457.0,876.1 459.1,877.4 461.2,878.8 463.3,880.1 465.3,881.4 467.4,882.7 469.5,884.0 471.6,885.3 473.7,886.6 475.8,887.9 477.9,889.3 480.0,890.6 482.1,891.9 484.2,893.2 486.2,894.5 488.3,895.9 490.4,897.2 492.5,898.5 494.6,899.8 496.7,901.2 498.8,902.5 500.9,903.8 503.0,905.1 505.1,906.5 507.1,907.8 509.2,909.1 511.3,910.5 513.4,911.8 515.5,913.1 517.6,914.5 519.7,915.8 521.8,917.2 523.9,918.5 526.0,919.8 528.0,921.2 530.1,922.5 532.2,923.9 534.3,925.2 536.4,926.6 538.5,927.9 540.6,929.3 542.7,930.6 544.8,932.0 546.9,933.3 549.0,934.7 551.0,936.0 553.1,937.4 555.2,938.8 557.3,940.1 559.4,941.5 561.5,942.8 563.6,944.2 565.7,945.6 567.8,946.9 569.9,948.3 571.9,949.7 574.0,951.0 576.1,952.4 578.2,953.8 580.3,955.1 582.4,956.5 584.5,957.9 586.6,959.3 588.7,960.6 590.8,962.0 592.8,963.4 594.9,964.8 597.0,966.2 599.1,967.6 601.2,968.9 603.3,970.3 605.4,971.7 607.5,973.1 609.6,974.5 611.7,975.9 613.8,977.3 615.8,978.7 617.9,980.1 620.0,981.5 622.1,982.9 624.2,984.3 626.3,985.7 628.4,987.1 630.5,988.5 632.6,989.9 634.7,991.3 636.7,992.7 638.8,994.1 640.9,995.5 643.0,996.9 645.1,998.3 647.2,999.7 649.3,1001.1 651.4,1002.6 653.5,1004.0 655.6,1005.4 657.6,1006.8 659.7,1008.2 661.8,1009.7 663.9,1011.1 666.0,1012.5 668.1,1013.9 670.2,1015.4 672.3,1016.8 674.4,1018.2 676.5,1019.6 678.6,1021.1 680.6,1022.5 682.7,1024.0 684.8,1025.4 686.9,1026.8 689.0,1028.3 691.1,1029.7 693.2,1031.2 695.3,1032.6 697.4,1034.0 699.5,1035.5 701.5,1036.9 703.6,1038.4 705.7,1039.8 707.8,1041.3 709.9,1042.7 712.0,1044.2 714.1,1045.7 716.2,1047.1 718.3,1048.6 720.4,1050.0 722.4,1051.5 724.5,1053.0 726.6,1054.4 728.7,1055.9 730.8,1057.4 732.9,1058.8 735.0,1060.3 737.1,1061.8 739.2,1063.3 741.3,1064.7 743.4,1066.2 745.4,1067.7 747.5,1069.2 749.6,1070.6 751.7,1072.1 753.8,1073.6 755.9,1075.1 758.0,1076.6 760.1,1078.1 762.2,1079.6 764.3,1081.1 766.3,1082.6 768.4,1084.0 770.5,1085.5 772.6,1087.0 774.7,1088.5 776.8,1090.0 778.9,1091.5 781.0,1093.1 783.1,1094.6 785.2,1096.1 787.2,1097.6 789.3,1099.1 791.4,1100.6 793.5,1102.1 795.6,1103.6 797.7,1105.1 799.8,1106.7 801.9,1108.2 804.0,1109.7 806.1,1111.2 808.1,1112.8 810.2,1114.3 812.3,1115.8 814.4,1117.3 816.5,1118.9 818.6,1120.4 820.7,1121.9 822.8,1123.5 824.9,1125.0 827.0,1126.6 829.1,1128.1 831.1,1129.6 833.2,1131.2 835.3,1132.7 837.4,1134.3 839.5,1135.8 841.6,1137.4 843.7,1138.9 845.8,1140.5 847.9,1142.0 850.0,1143.6 852.0,1145.2 854.1,1146.7 856.2,1148.3 858.3,1149.9 860.4,1151.4 862.5,1153.0 864.6,1154.6 866.7,1156.1 868.8,1157.7 870.9,1159.3 872.9,1160.9 875.0,1162.5 877.1,1164.0 879.2,1165.6 881.3,1167.2 883.4,1168.8 885.5,1170.4 887.6,1172.0 889.7,1173.6 891.8,1175.2 893.9,1176.8 895.9,1178.3 898.0,1179.9 900.1,1181.6 902.2,1183.2 904.3,1184.8 906.4,1186.4 908.5,1188.0 910.6,1189.6 912.7,1191.2 914.8,1192.8 916.8,1194.4 918.9,1196.1 921.0,1197.7 923.1,1199.3 925.2,1200.9 927.3,1202.5 929.4,1204.2 931.5,1205.8 933.6,1207.4 935.7,1209.1 937.7,1210.7 939.8,1212.4 941.9,1214.0 944.0,1215.6 946.1,1217.3 948.2,1218.9 950.3,1220.6 952.4,1222.2 954.5,1223.9 956.6,1225.5 958.7,1227.2 960.7,1228.8 962.8,1230.5 964.9,1232.2 967.0,1233.8 969.1,1235.5 971.2,1237.2 973.3,1238.8 975.4,1240.5 977.5,1242.2 979.6,1243.9 981.6,1245.6 983.7,1247.2 985.8,1248.9 987.9,1250.6 990.0,1252.3 992.1,1254.0 994.2,1255.7 996.3,1257.4 998.4,1259.1 1000.5,1260.8 1002.5,1262.5 1004.6,1264.2 1006.7,1265.9 1008.8,1267.6 1010.9,1269.3 1013.0,1271.0 1015.1,1272.7 1017.2,1274.4 1019.3,1276.2 1021.4,1277.9 1023.5,1279.6 1025.5,1281.3 1027.6,1283.1 1029.7,1284.8 1031.8,1286.5 1033.9,1288.3 1036.0,1290.0 1038.1,1291.7 1040.2,1293.5 1042.3,1295.2 1044.4,1297.0 1046.4,1298.7 1048.5,1300.5 1050.6,1302.2 1052.7,1304.0 1054.8,1305.8 1056.9,1307.5 1059.0,1309.3 1061.1,1311.1 1063.2,1312.8 1065.3,1314.6 1067.3,1316.4 1069.4,1318.1 1071.5,1319.9 1073.6,1321.7 1075.7,1323.5 1077.8,1325.3 1079.9,1327.1 1082.0,1328.9 1084.1,1330.7 1086.2,1332.5 1088.2,1334.3 1090.3,1336.1 1092.4,1337.9 1094.5,1339.7 1096.6,1341.5 1098.7,1343.3 1100.8,1345.1 1102.9,1346.9 1105.0,1348.8 1107.1,1350.6 1109.2,1352.4 1111.2,1354.2 1113.3,1356.1 1115.4,1357.9 1117.5,1359.8 1119.6,1361.6 1121.7,1363.4 1123.8,1365.3 1125.9,1367.1 1128.0,1369.0 1130.1,1370.8 1132.1,1372.7 1134.2,1374.6 1136.3,1376.4 1138.4,1378.3 1140.5,1380.2 1142.6,1382.0 1144.7,1383.9 1146.8,1385.8 1148.9,1387.7 1151.0,1389.6 1153.0,1391.4 1155.1,1393.3 1157.2,1395.2 1159.3,1397.1 1161.4,1399.0 1163.5,1400.9 1165.6,1402.8 1167.7,1404.7 1169.8,1406.7 1171.9,1408.6 1174.0,1410.5 1176.0,1412.4 1178.1,1414.3 1180.2,1416.3 1182.3,1418.2 1184.4,1420.1 1186.5,1422.1 1188.6,1424.0 1190.7,1425.9 1192.8,1427.9 1194.9,1429.8 1196.9,1431.8 1199.0,1433.8 1201.1,1435.7 1203.2,1437.7 1205.3,1439.6 1207.4,1441.6 1209.5,1443.6 1211.6,1445.6 1213.7,1447.5 1215.8,1449.5 1217.8,1451.5 1219.9,1453.5 1222.0,1455.5 1224.1,1457.5 1226.2,1459.5 1228.3,1461.5 1230.4,1463.5 1232.5,1465.5 1234.6,1467.6 1236.7,1469.6 1238.8,1471.6 1240.8,1473.6 1242.9,1475.7 1245.0,1477.7 1247.1,1479.7 1249.2,1481.8 1251.3,1483.8 1253.4,1485.9 1255.5,1487.9 1257.6,1490.0 1259.7,1492.0 1261.7,1494.1 1263.8,1496.2 1265.9,1498.3 1268.0,1500.3 1270.1,1502.4 1272.2,1504.5 1274.3,1506.6 1276.4,1508.7 1278.5,1510.8 1280.6,1512.9 1282.6,1515.0 1284.7,1517.1 1286.8,1519.2 1288.9,1521.3 1291.0,1523.5 1293.1,1525.6 1295.2,1527.7 1297.3,1529.8 1299.4,1532.0 1301.5,1534.1 1303.6,1536.3 1305.6,1538.4 1307.7,1540.6 1309.8,1542.8 1311.9,1544.9 1314.0,1547.1 1316.1,1549.3 1318.2,1551.4 1320.3,1553.6 1322.4,1555.8 1324.5,1558.0 1326.5,1560.2 1328.6,1562.4 1330.7,1564.6 1332.8,1566.8 1334.9,1569.1 1337.0,1571.3 1339.1,1573.5 1341.2,1575.7 1343.3,1578.0 1345.4,1580.2 1347.4,1582.5 1349.5,1584.7 1351.6,1587.0 1353.7,1589.2 1355.8,1591.5 1357.9,1593.8 1360.0,1596.1 1362.1,1598.3 1364.2,1600.6 1366.3,1602.9 1368.4,1605.2 1370.4,1607.5 1372.5,1609.8 1374.6,1612.2 1376.7,1614.5 1378.8,1616.8 1380.9,1619.1 1383.0,1621.5 1385.1,1623.8 1387.2,1626.2 1389.3,1628.5 1391.3,1630.9 1393.4,1633.3 1395.5,1635.6 1397.6,1638.0 1399.7,1640.4 1401.8,1642.8 1403.9,1645.2 1406.0,1647.6 1408.1,1650.0 1410.2,1652.4 1412.2,1654.8 1414.3,1657.3 1416.4,1659.7 1418.5,1662.1 1420.6,1664.6 1422.7,1667.0 1424.8,1669.5 1426.9,1672.0 1429.0,1674.4 1431.1,1676.9 1433.1,1679.4 1435.2,1681.9 1437.3,1684.4 1439.4,1686.9 1441.5,1689.4 1443.6,1691.9 1445.7,1694.5 1447.8,1697.0 1449.9,1699.5 1452.0,1702.1 1454.1,1704.6 1456.1,1707.2 1458.2,1709.8 1460.3,1712.4 1462.4,1715.0 1464.5,1717.5 1466.6,1720.2 1468.7,1722.8 1470.8,1725.4 1472.9,1728.0 1475.0,1730.6 1477.0,1733.3 1479.1,1735.9 1481.2,1738.6 1483.3,1741.3 1485.4,1743.9 1487.5,1746.6 1489.6,1749.3 1491.7,1752.0 1493.8,1754.7 1495.9,1757.4 1497.9,1760.2 1500.0,1762.9 1502.1,1765.7 1504.2,1768.4 1506.3,1771.2 1508.4,1774.0 1510.5,1776.7 1512.6,1779.5 1514.7,1782.3 1516.8,1785.1 1518.9,1788.0 1520.9,1790.8 1523.0,1793.6 1525.1,1796.5 1527.2,1799.4 1529.3,1802.2 1531.4,1805.1 1533.5,1808.0 1535.6,1810.9 1537.7,1813.8 1539.8,1816.8 1541.8,1819.7 1543.9,1822.6 1546.0,1825.6 1548.1,1828.6 1550.2,1831.6 1552.3,1834.6 1554.4,1837.6 1556.5,1840.6 1558.6,1843.6 1560.7,1846.7 1562.7,1849.7 1564.8,1852.8 1566.9,1855.9 1569.0,1859.0 1571.1,1862.1 1573.2,1865.2 1575.3,1868.3 1577.4,1871.5 1579.5,1874.6 1581.6,1877.8 1583.7,1881.0 1585.7,1884.2 1587.8,1887.4 1589.9,1890.7 1592.0,1893.9 1594.1,1897.2 1596.2,1900.5 1598.3,1903.8 1600.4,1907.1 1602.5,1910.4 1604.6,1913.7 1606.6,1917.1 1608.7,1920.5 1610.8,1923.9 1612.9,1927.3 1615.0,1930.7 1617.1,1934.2 1619.2,1937.6 1621.3,1941.1 1623.4,1944.6 1625.5,1948.1 1627.5,1951.7 1629.6,1955.2 1631.7,1958.8 1633.8,1962.4 1635.9,1966.0 1638.0,1969.7 1640.1,1973.3 1642.2,1977.0 1644.3,1980.7 1646.4,1984.5 1648.5,1988.2 1650.5,1992.0 1652.6,1995.8 1654.7,1999.6 1656.8,2003.5 1658.9,2007.3 1661.0,2011.2 1663.1,2015.2 1665.2,2019.1 1667.3,2023.1 1669.4,2027.1 1671.4,2031.2 1673.5,2035.2 1675.6,2039.3 1677.7,2043.5 1679.8,2047.6 1681.9,2051.8 1684.0,2056.0 1686.1,2060.3 1688.2,2064.6 1690.3,2068.9 1692.3,2073.3 1694.4,2077.7 1696.5,2082.1 1698.6,2086.6 1700.7,2091.1 1702.8,2095.7 1704.9,2100.3 1707.0,2104.9 1709.1,2109.6 1711.2,2114.4 1713.2,2119.1 1715.3,2124.0 1717.4,2128.8 1719.5,2133.8 1721.6,2138.8 1723.7,2143.8 1725.8,2148.9 1727.9,2154.1 1730.0,2159.3 1732.1,2164.6 1734.2,2169.9 1736.2,2175.4 1738.3,2180.8 1740.4,2186.4 1742.5,2192.1 1744.6,2197.8 1746.7,2203.6 1748.8,2209.5 1750.9,2215.5 1753.0,2221.6 1755.1,2227.7 1757.1,2234.0 1759.2,2240.4 1761.3,2247.0 1763.4,2253.6 1765.5,2260.4 1767.6,2267.3 1769.7,2274.4 1771.8,2281.6 1773.9,2289.0 1776.0,2296.6 1778.0,2304.4 1780.1,2312.4 1782.2,2320.7 1784.3,2329.2 1786.4,2338.0" fill="none" stroke="#D08CFF" stroke-width="5.0" stroke-linejoin="round" stroke-linecap="round"/>
<polyline points="323.2,794.6 325.3,796.0 327.4,797.4 329.5,798.9 331.6,800.3 333.7,801.7 335.7,803.2 337.8,804.6 339.9,806.0 342.0,807.5 344.1,808.9 346.2,810.3 348.3,811.8 350.4,813.2 352.5,814.6 354.6,816.1 356.6,817.5 358.7,819.0 360.8,820.4 362.9,821.9 365.0,823.3 367.1,824.8 369.2,826.2 371.3,827.7 373.4,829.1 375.5,830.6 377.5,832.0 379.6,833.5 381.7,834.9 383.8,836.4 385.9,837.8 388.0,839.3 390.1,840.8 392.2,842.2 394.3,843.7 396.4,845.2 398.5,846.6 400.5,848.1 402.6,849.6 404.7,851.0 406.8,852.5 408.9,854.0 411.0,855.5 413.1,856.9 415.2,858.4 417.3,859.9 419.4,861.4 421.4,862.9 423.5,864.3 425.6,865.8 427.7,867.3 429.8,868.8 431.9,870.3 434.0,871.8 436.1,873.3 438.2,874.8 440.3,876.2 442.3,877.7 444.4,879.2 446.5,880.7 448.6,882.2 450.7,883.7 452.8,885.2 454.9,886.7 457.0,888.2 459.1,889.7 461.2,891.3 463.3,892.8 465.3,894.3 467.4,895.8 469.5,897.3 471.6,898.8 473.7,900.3 475.8,901.8 477.9,903.4 480.0,904.9 482.1,906.4 484.2,907.9 486.2,909.5 488.3,911.0 490.4,912.5 492.5,914.0 494.6,915.6 496.7,917.1 498.8,918.6 500.9,920.2 503.0,921.7 505.1,923.2 507.1,924.8 509.2,926.3 511.3,927.9 513.4,929.4 515.5,930.9 517.6,932.5 519.7,934.0 521.8,935.6 523.9,937.1 526.0,938.7 528.0,940.2 530.1,941.8 532.2,943.4 534.3,944.9 536.4,946.5 538.5,948.0 540.6,949.6 542.7,951.2 544.8,952.7 546.9,954.3 549.0,955.9 551.0,957.4 553.1,959.0 555.2,960.6 557.3,962.2 559.4,963.7 561.5,965.3 563.6,966.9 565.7,968.5 567.8,970.1 569.9,971.6 571.9,973.2 574.0,974.8 576.1,976.4 578.2,978.0 580.3,979.6 582.4,981.2 584.5,982.8 586.6,984.4 588.7,986.0 590.8,987.6 592.8,989.2 594.9,990.8 597.0,992.4 599.1,994.0 601.2,995.6 603.3,997.2 605.4,998.8 607.5,1000.5 609.6,1002.1 611.7,1003.7 613.8,1005.3 615.8,1006.9 617.9,1008.6 620.0,1010.2 622.1,1011.8 624.2,1013.4 626.3,1015.1 628.4,1016.7 630.5,1018.3 632.6,1020.0 634.7,1021.6 636.7,1023.2 638.8,1024.9 640.9,1026.5 643.0,1028.2 645.1,1029.8 647.2,1031.5 649.3,1033.1 651.4,1034.8 653.5,1036.4 655.6,1038.1 657.6,1039.7 659.7,1041.4 661.8,1043.0 663.9,1044.7 666.0,1046.4 668.1,1048.0 670.2,1049.7 672.3,1051.4 674.4,1053.0 676.5,1054.7 678.6,1056.4 680.6,1058.1 682.7,1059.8 684.8,1061.4 686.9,1063.1 689.0,1064.8 691.1,1066.5 693.2,1068.2 695.3,1069.9 697.4,1071.6 699.5,1073.3 701.5,1075.0 703.6,1076.6 705.7,1078.3 707.8,1080.1 709.9,1081.8 712.0,1083.5 714.1,1085.2 716.2,1086.9 718.3,1088.6 720.4,1090.3 722.4,1092.0 724.5,1093.7 726.6,1095.5 728.7,1097.2 730.8,1098.9 732.9,1100.6 735.0,1102.4 737.1,1104.1 739.2,1105.8 741.3,1107.6 743.4,1109.3 745.4,1111.0 747.5,1112.8 749.6,1114.5 751.7,1116.3 753.8,1118.0 755.9,1119.8 758.0,1121.5 760.1,1123.3 762.2,1125.0 764.3,1126.8 766.3,1128.5 768.4,1130.3 770.5,1132.1 772.6,1133.8 774.7,1135.6 776.8,1137.4 778.9,1139.2 781.0,1140.9 783.1,1142.7 785.2,1144.5 787.2,1146.3 789.3,1148.1 791.4,1149.8 793.5,1151.6 795.6,1153.4 797.7,1155.2 799.8,1157.0 801.9,1158.8 804.0,1160.6 806.1,1162.4 808.1,1164.2 810.2,1166.0 812.3,1167.8 814.4,1169.6 816.5,1171.5 818.6,1173.3 820.7,1175.1 822.8,1176.9 824.9,1178.7 827.0,1180.6 829.1,1182.4 831.1,1184.2 833.2,1186.1 835.3,1187.9 837.4,1189.7 839.5,1191.6 841.6,1193.4 843.7,1195.3 845.8,1197.1 847.9,1199.0 850.0,1200.8 852.0,1202.7 854.1,1204.5 856.2,1206.4 858.3,1208.3 860.4,1210.1 862.5,1212.0 864.6,1213.9 866.7,1215.8 868.8,1217.6 870.9,1219.5 872.9,1221.4 875.0,1223.3 877.1,1225.2 879.2,1227.1 881.3,1229.0 883.4,1230.8 885.5,1232.7 887.6,1234.6 889.7,1236.6 891.8,1238.5 893.9,1240.4 895.9,1242.3 898.0,1244.2 900.1,1246.1 902.2,1248.0 904.3,1250.0 906.4,1251.9 908.5,1253.8 910.6,1255.7 912.7,1257.7 914.8,1259.6 916.8,1261.6 918.9,1263.5 921.0,1265.4 923.1,1267.4 925.2,1269.3 927.3,1271.3 929.4,1273.3 931.5,1275.2 933.6,1277.2 935.7,1279.2 937.7,1281.1 939.8,1283.1 941.9,1285.1 944.0,1287.1 946.1,1289.0 948.2,1291.0 950.3,1293.0 952.4,1295.0 954.5,1297.0 956.6,1299.0 958.7,1301.0 960.7,1303.0 962.8,1305.0 964.9,1307.0 967.0,1309.0 969.1,1311.0 971.2,1313.1 973.3,1315.1 975.4,1317.1 977.5,1319.1 979.6,1321.2 981.6,1323.2 983.7,1325.3 985.8,1327.3 987.9,1329.3 990.0,1331.4 992.1,1333.4 994.2,1335.5 996.3,1337.6 998.4,1339.6 1000.5,1341.7 1002.5,1343.8 1004.6,1345.8 1006.7,1347.9 1008.8,1350.0 1010.9,1352.1 1013.0,1354.2 1015.1,1356.3 1017.2,1358.4 1019.3,1360.5 1021.4,1362.6 1023.5,1364.7 1025.5,1366.8 1027.6,1368.9 1029.7,1371.0 1031.8,1373.1 1033.9,1375.3 1036.0,1377.4 1038.1,1379.5 1040.2,1381.7 1042.3,1383.8 1044.4,1385.9 1046.4,1388.1 1048.5,1390.2 1050.6,1392.4 1052.7,1394.6 1054.8,1396.7 1056.9,1398.9 1059.0,1401.1 1061.1,1403.2 1063.2,1405.4 1065.3,1407.6 1067.3,1409.8 1069.4,1412.0 1071.5,1414.2 1073.6,1416.4 1075.7,1418.6 1077.8,1420.8 1079.9,1423.0 1082.0,1425.2 1084.1,1427.4 1086.2,1429.7 1088.2,1431.9 1090.3,1434.1 1092.4,1436.4 1094.5,1438.6 1096.6,1440.9 1098.7,1443.1 1100.8,1445.4 1102.9,1447.6 1105.0,1449.9 1107.1,1452.2 1109.2,1454.4 1111.2,1456.7 1113.3,1459.0 1115.4,1461.3 1117.5,1463.6 1119.6,1465.9 1121.7,1468.2 1123.8,1470.5 1125.9,1472.8 1128.0,1475.1 1130.1,1477.4 1132.1,1479.8 1134.2,1482.1 1136.3,1484.4 1138.4,1486.8 1140.5,1489.1 1142.6,1491.5 1144.7,1493.8 1146.8,1496.2 1148.9,1498.6 1151.0,1500.9 1153.0,1503.3 1155.1,1505.7 1157.2,1508.1 1159.3,1510.5 1161.4,1512.9 1163.5,1515.3 1165.6,1517.7 1167.7,1520.1 1169.8,1522.5 1171.9,1525.0 1174.0,1527.4 1176.0,1529.8 1178.1,1532.3 1180.2,1534.7 1182.3,1537.2 1184.4,1539.7 1186.5,1542.1 1188.6,1544.6 1190.7,1547.1 1192.8,1549.6 1194.9,1552.0 1196.9,1554.5 1199.0,1557.0 1201.1,1559.6 1203.2,1562.1 1205.3,1564.6 1207.4,1567.1 1209.5,1569.7 1211.6,1572.2 1213.7,1574.7 1215.8,1577.3 1217.8,1579.9 1219.9,1582.4 1222.0,1585.0 1224.1,1587.6 1226.2,1590.2 1228.3,1592.7 1230.4,1595.3 1232.5,1598.0 1234.6,1600.6 1236.7,1603.2 1238.8,1605.8 1240.8,1608.5 1242.9,1611.1 1245.0,1613.7 1247.1,1616.4 1249.2,1619.1 1251.3,1621.7 1253.4,1624.4 1255.5,1627.1 1257.6,1629.8 1259.7,1632.5 1261.7,1635.2 1263.8,1637.9 1265.9,1640.6 1268.0,1643.4 1270.1,1646.1 1272.2,1648.9 1274.3,1651.6 1276.4,1654.4 1278.5,1657.2 1280.6,1659.9 1282.6,1662.7 1284.7,1665.5 1286.8,1668.3 1288.9,1671.1 1291.0,1674.0 1293.1,1676.8 1295.2,1679.6 1297.3,1682.5 1299.4,1685.4 1301.5,1688.2 1303.6,1691.1 1305.6,1694.0 1307.7,1696.9 1309.8,1699.8 1311.9,1702.7 1314.0,1705.6 1316.1,1708.6 1318.2,1711.5 1320.3,1714.5 1322.4,1717.4 1324.5,1720.4 1326.5,1723.4 1328.6,1726.4 1330.7,1729.4 1332.8,1732.4 1334.9,1735.4 1337.0,1738.5 1339.1,1741.5 1341.2,1744.6 1343.3,1747.7 1345.4,1750.7 1347.4,1753.8 1349.5,1756.9 1351.6,1760.1 1353.7,1763.2 1355.8,1766.3 1357.9,1769.5 1360.0,1772.6 1362.1,1775.8 1364.2,1779.0 1366.3,1782.2 1368.4,1785.4 1370.4,1788.7 1372.5,1791.9 1374.6,1795.2 1376.7,1798.4 1378.8,1801.7 1380.9,1805.0 1383.0,1808.3 1385.1,1811.6 1387.2,1815.0 1389.3,1818.3 1391.3,1821.7 1393.4,1825.1 1395.5,1828.5 1397.6,1831.9 1399.7,1835.3 1401.8,1838.8 1403.9,1842.2 1406.0,1845.7 1408.1,1849.2 1410.2,1852.7 1412.2,1856.2 1414.3,1859.8 1416.4,1863.3 1418.5,1866.9 1420.6,1870.5 1422.7,1874.1 1424.8,1877.7 1426.9,1881.4 1429.0,1885.0 1431.1,1888.7 1433.1,1892.4 1435.2,1896.2 1437.3,1899.9 1439.4,1903.7 1441.5,1907.5 1443.6,1911.3 1445.7,1915.1 1447.8,1919.0 1449.9,1922.8 1452.0,1926.7 1454.1,1930.7 1456.1,1934.6 1458.2,1938.6 1460.3,1942.6 1462.4,1946.6 1464.5,1950.6 1466.6,1954.7 1468.7,1958.8 1470.8,1962.9 1472.9,1967.1 1475.0,1971.2 1477.0,1975.4 1479.1,1979.7 1481.2,1983.9 1483.3,1988.2 1485.4,1992.6 1487.5,1996.9 1489.6,2001.3 1491.7,2005.7 1493.8,2010.2 1495.9,2014.7 1497.9,2019.2 1500.0,2023.8 1502.1,2028.4 1504.2,2033.0 1506.3,2037.7 1508.4,2042.4 1510.5,2047.1 1512.6,2051.9 1514.7,2056.8 1516.8,2061.7 1518.9,2066.6 1520.9,2071.6 1523.0,2076.6 1525.1,2081.7 1527.2,2086.8 1529.3,2092.0 1531.4,2097.2 1533.5,2102.5 1535.6,2107.8 1537.7,2113.2 1539.8,2118.7 1541.8,2124.2 1543.9,2129.8 1546.0,2135.5 1548.1,2141.2 1550.2,2147.1 1552.3,2152.9 1554.4,2158.9 1556.5,2165.0 1558.6,2171.1 1560.7,2177.3 1562.7,2183.7 1564.8,2190.1 1566.9,2196.6 1569.0,2203.3 1571.1,2210.0 1573.2,2216.9 1575.3,2223.9 1577.4,2231.0 1579.5,2238.3 1581.6,2245.8 1583.7,2253.4 1585.7,2261.1 1587.8,2269.1 1589.9,2277.3 1592.0,2285.7 1594.1,2294.3 1596.2,2303.1 1598.3,2312.3 1600.4,2321.8 1602.5,2331.6 1604.6,2341.8 1606.6,2352.4 1608.7,2363.5 1610.8,2375.2 1612.9,2387.6 1615.0,2400.7 1617.1,2414.8 1619.2,2430.2" fill="none" stroke="#62C0FF" stroke-width="5.0" stroke-linejoin="round" stroke-linecap="round"/>
<polyline points="323.2,794.6 325.3,796.2 327.4,797.8 329.5,799.4 331.6,801.0 333.7,802.6 335.7,804.2 337.8,805.8 339.9,807.4 342.0,809.1 344.1,810.7 346.2,812.3 348.3,813.9 350.4,815.5 352.5,817.1 354.6,818.8 356.6,820.4 358.7,822.0 360.8,823.6 362.9,825.3 365.0,826.9 367.1,828.5 369.2,830.2 371.3,831.8 373.4,833.4 375.5,835.1 377.5,836.7 379.6,838.4 381.7,840.0 383.8,841.6 385.9,843.3 388.0,844.9 390.1,846.6 392.2,848.2 394.3,849.9 396.4,851.5 398.5,853.2 400.5,854.9 402.6,856.5 404.7,858.2 406.8,859.8 408.9,861.5 411.0,863.2 413.1,864.8 415.2,866.5 417.3,868.2 419.4,869.9 421.4,871.5 423.5,873.2 425.6,874.9 427.7,876.6 429.8,878.2 431.9,879.9 434.0,881.6 436.1,883.3 438.2,885.0 440.3,886.7 442.3,888.4 444.4,890.1 446.5,891.8 448.6,893.5 450.7,895.2 452.8,896.9 454.9,898.6 457.0,900.3 459.1,902.0 461.2,903.7 463.3,905.4 465.3,907.1 467.4,908.8 469.5,910.5 471.6,912.3 473.7,914.0 475.8,915.7 477.9,917.4 480.0,919.2 482.1,920.9 484.2,922.6 486.2,924.3 488.3,926.1 490.4,927.8 492.5,929.5 494.6,931.3 496.7,933.0 498.8,934.8 500.9,936.5 503.0,938.3 505.1,940.0 507.1,941.8 509.2,943.5 511.3,945.3 513.4,947.0 515.5,948.8 517.6,950.5 519.7,952.3 521.8,954.1 523.9,955.8 526.0,957.6 528.0,959.4 530.1,961.1 532.2,962.9 534.3,964.7 536.4,966.5 538.5,968.3 540.6,970.0 542.7,971.8 544.8,973.6 546.9,975.4 549.0,977.2 551.0,979.0 553.1,980.8 555.2,982.6 557.3,984.4 559.4,986.2 561.5,988.0 563.6,989.8 565.7,991.6 567.8,993.4 569.9,995.2 571.9,997.0 574.0,998.8 576.1,1000.7 578.2,1002.5 580.3,1004.3 582.4,1006.1 584.5,1008.0 586.6,1009.8 588.7,1011.6 590.8,1013.5 592.8,1015.3 594.9,1017.1 597.0,1019.0 599.1,1020.8 601.2,1022.7 603.3,1024.5 605.4,1026.4 607.5,1028.2 609.6,1030.1 611.7,1031.9 613.8,1033.8 615.8,1035.6 617.9,1037.5 620.0,1039.4 622.1,1041.2 624.2,1043.1 626.3,1045.0 628.4,1046.9 630.5,1048.7 632.6,1050.6 634.7,1052.5 636.7,1054.4 638.8,1056.3 640.9,1058.2 643.0,1060.0 645.1,1061.9 647.2,1063.8 649.3,1065.7 651.4,1067.6 653.5,1069.5 655.6,1071.5 657.6,1073.4 659.7,1075.3 661.8,1077.2 663.9,1079.1 666.0,1081.0 668.1,1082.9 670.2,1084.9 672.3,1086.8 674.4,1088.7 676.5,1090.7 678.6,1092.6 680.6,1094.5 682.7,1096.5 684.8,1098.4 686.9,1100.4 689.0,1102.3 691.1,1104.2 693.2,1106.2 695.3,1108.2 697.4,1110.1 699.5,1112.1 701.5,1114.0 703.6,1116.0 705.7,1118.0 707.8,1119.9 709.9,1121.9 712.0,1123.9 714.1,1125.9 716.2,1127.9 718.3,1129.8 720.4,1131.8 722.4,1133.8 724.5,1135.8 726.6,1137.8 728.7,1139.8 730.8,1141.8 732.9,1143.8 735.0,1145.8 737.1,1147.8 739.2,1149.8 741.3,1151.9 743.4,1153.9 745.4,1155.9 747.5,1157.9 749.6,1160.0 751.7,1162.0 753.8,1164.0 755.9,1166.1 758.0,1168.1 760.1,1170.1 762.2,1172.2 764.3,1174.2 766.3,1176.3 768.4,1178.3 770.5,1180.4 772.6,1182.5 774.7,1184.5 776.8,1186.6 778.9,1188.7 781.0,1190.7 783.1,1192.8 785.2,1194.9 787.2,1197.0 789.3,1199.1 791.4,1201.2 793.5,1203.3 795.6,1205.3 797.7,1207.4 799.8,1209.5 801.9,1211.7 804.0,1213.8 806.1,1215.9 808.1,1218.0 810.2,1220.1 812.3,1222.2 814.4,1224.4 816.5,1226.5 818.6,1228.6 820.7,1230.8 822.8,1232.9 824.9,1235.0 827.0,1237.2 829.1,1239.3 831.1,1241.5 833.2,1243.6 835.3,1245.8 837.4,1248.0 839.5,1250.1 841.6,1252.3 843.7,1254.5 845.8,1256.7 847.9,1258.8 850.0,1261.0 852.0,1263.2 854.1,1265.4 856.2,1267.6 858.3,1269.8 860.4,1272.0 862.5,1274.2 864.6,1276.4 866.7,1278.6 868.8,1280.9 870.9,1283.1 872.9,1285.3 875.0,1287.5 877.1,1289.8 879.2,1292.0 881.3,1294.3 883.4,1296.5 885.5,1298.8 887.6,1301.0 889.7,1303.3 891.8,1305.5 893.9,1307.8 895.9,1310.1 898.0,1312.3 900.1,1314.6 902.2,1316.9 904.3,1319.2 906.4,1321.5 908.5,1323.8 910.6,1326.1 912.7,1328.4 914.8,1330.7 916.8,1333.0 918.9,1335.3 921.0,1337.6 923.1,1340.0 925.2,1342.3 927.3,1344.6 929.4,1347.0 931.5,1349.3 933.6,1351.6 935.7,1354.0 937.7,1356.4 939.8,1358.7 941.9,1361.1 944.0,1363.5 946.1,1365.8 948.2,1368.2 950.3,1370.6 952.4,1373.0 954.5,1375.4 956.6,1377.8 958.7,1380.2 960.7,1382.6 962.8,1385.0 964.9,1387.4 967.0,1389.8 969.1,1392.3 971.2,1394.7 973.3,1397.1 975.4,1399.6 977.5,1402.0 979.6,1404.5 981.6,1406.9 983.7,1409.4 985.8,1411.9 987.9,1414.3 990.0,1416.8 992.1,1419.3 994.2,1421.8 996.3,1424.3 998.4,1426.8 1000.5,1429.3 1002.5,1431.8 1004.6,1434.3 1006.7,1436.8 1008.8,1439.4 1010.9,1441.9 1013.0,1444.4 1015.1,1447.0 1017.2,1449.5 1019.3,1452.1 1021.4,1454.7 1023.5,1457.2 1025.5,1459.8 1027.6,1462.4 1029.7,1465.0 1031.8,1467.5 1033.9,1470.1 1036.0,1472.7 1038.1,1475.4 1040.2,1478.0 1042.3,1480.6 1044.4,1483.2 1046.4,1485.9 1048.5,1488.5 1050.6,1491.1 1052.7,1493.8 1054.8,1496.5 1056.9,1499.1 1059.0,1501.8 1061.1,1504.5 1063.2,1507.2 1065.3,1509.9 1067.3,1512.6 1069.4,1515.3 1071.5,1518.0 1073.6,1520.7 1075.7,1523.4 1077.8,1526.2 1079.9,1528.9 1082.0,1531.6 1084.1,1534.4 1086.2,1537.2 1088.2,1539.9 1090.3,1542.7 1092.4,1545.5 1094.5,1548.3 1096.6,1551.1 1098.7,1553.9 1100.8,1556.7 1102.9,1559.5 1105.0,1562.4 1107.1,1565.2 1109.2,1568.0 1111.2,1570.9 1113.3,1573.8 1115.4,1576.6 1117.5,1579.5 1119.6,1582.4 1121.7,1585.3 1123.8,1588.2 1125.9,1591.1 1128.0,1594.0 1130.1,1597.0 1132.1,1599.9 1134.2,1602.8 1136.3,1605.8 1138.4,1608.8 1140.5,1611.7 1142.6,1614.7 1144.7,1617.7 1146.8,1620.7 1148.9,1623.7 1151.0,1626.7 1153.0,1629.8 1155.1,1632.8 1157.2,1635.9 1159.3,1638.9 1161.4,1642.0 1163.5,1645.1 1165.6,1648.1 1167.7,1651.2 1169.8,1654.4 1171.9,1657.5 1174.0,1660.6 1176.0,1663.7 1178.1,1666.9 1180.2,1670.1 1182.3,1673.2 1184.4,1676.4 1186.5,1679.6 1188.6,1682.8 1190.7,1686.0 1192.8,1689.2 1194.9,1692.5 1196.9,1695.7 1199.0,1699.0 1201.1,1702.3 1203.2,1705.6 1205.3,1708.9 1207.4,1712.2 1209.5,1715.5 1211.6,1718.8 1213.7,1722.2 1215.8,1725.6 1217.8,1728.9 1219.9,1732.3 1222.0,1735.7 1224.1,1739.1 1226.2,1742.6 1228.3,1746.0 1230.4,1749.5 1232.5,1752.9 1234.6,1756.4 1236.7,1759.9 1238.8,1763.4 1240.8,1767.0 1242.9,1770.5 1245.0,1774.1 1247.1,1777.7 1249.2,1781.3 1251.3,1784.9 1253.4,1788.5 1255.5,1792.1 1257.6,1795.8 1259.7,1799.5 1261.7,1803.2 1263.8,1806.9 1265.9,1810.6 1268.0,1814.3 1270.1,1818.1 1272.2,1821.9 1274.3,1825.7 1276.4,1829.5 1278.5,1833.3 1280.6,1837.2 1282.6,1841.1 1284.7,1845.0 1286.8,1848.9 1288.9,1852.8 1291.0,1856.8 1293.1,1860.8 1295.2,1864.8 1297.3,1868.8 1299.4,1872.8 1301.5,1876.9 1303.6,1881.0 1305.6,1885.1 1307.7,1889.3 1309.8,1893.4 1311.9,1897.6 1314.0,1901.8 1316.1,1906.1 1318.2,1910.4 1320.3,1914.7 1322.4,1919.0 1324.5,1923.3 1326.5,1927.7 1328.6,1932.1 1330.7,1936.6 1332.8,1941.0 1334.9,1945.5 1337.0,1950.1 1339.1,1954.6 1341.2,1959.2 1343.3,1963.8 1345.4,1968.5 1347.4,1973.2 1349.5,1977.9 1351.6,1982.7 1353.7,1987.5 1355.8,1992.4 1357.9,1997.3 1360.0,2002.2 1362.1,2007.1 1364.2,2012.2 1366.3,2017.2 1368.4,2022.3 1370.4,2027.5 1372.5,2032.7 1374.6,2037.9 1376.7,2043.2 1378.8,2048.5 1380.9,2053.9 1383.0,2059.4 1385.1,2064.9 1387.2,2070.4 1389.3,2076.1 1391.3,2081.8 1393.4,2087.5 1395.5,2093.3 1397.6,2099.2 1399.7,2105.2 1401.8,2111.2 1403.9,2117.3 1406.0,2123.5 1408.1,2129.8 1410.2,2136.1 1412.2,2142.6 1414.3,2149.1 1416.4,2155.7 1418.5,2162.5 1420.6,2169.3 1422.7,2176.3 1424.8,2183.4 1426.9,2190.6 1429.0,2197.9 1431.1,2205.4 1433.1,2213.0 1435.2,2220.7 1437.3,2228.7 1439.4,2236.8 1441.5,2245.1 1443.6,2253.6 1445.7,2262.4 1447.8,2271.3 1449.9,2280.5 1452.0,2290.0" fill="none" stroke="#FF0000" stroke-width="6.2" stroke-linejoin="round" stroke-linecap="round"/>
<path d="M321.4 786.4L325.0 786.4L331.4 792.8L331.4 796.4L325.0 802.8L321.4 802.8L315.0 796.4L315.0 792.8ZM363.2 775.1L366.8 775.1L373.2 781.5L373.2 785.1L366.8 791.5L363.2 791.5L356.8 785.1L356.8 781.5ZM405.0 763.9L408.6 763.9L415.0 770.3L415.0 773.9L408.6 780.3L405.0 780.3L398.6 773.9L398.6 770.3ZM446.8 752.9L450.4 752.9L456.8 759.3L456.8 762.9L450.4 769.3L446.8 769.3L440.4 762.9L440.4 759.3ZM488.6 742.0L492.2 742.0L498.6 748.4L498.6 752.0L492.2 758.4L488.6 758.4L482.2 752.0L482.2 748.4ZM530.4 731.2L534.0 731.2L540.4 737.6L540.4 741.2L534.0 747.6L530.4 747.6L524.0 741.2L524.0 737.6ZM572.2 720.5L575.8 720.5L582.2 726.9L582.2 730.5L575.8 736.9L572.2 736.9L565.8 730.5L565.8 726.9ZM614.0 709.9L617.6 709.9L624.0 716.3L624.0 719.9L617.6 726.3L614.0 726.3L607.6 719.9L607.6 716.3ZM655.8 699.5L659.5 699.5L665.8 705.9L665.8 709.5L659.5 715.9L655.8 715.9L649.4 709.5L649.4 705.9ZM697.6 689.1L701.3 689.1L707.7 695.5L707.7 699.1L701.3 705.5L697.6 705.5L691.3 699.1L691.3 695.5ZM739.5 678.8L743.1 678.8L749.5 685.2L749.5 688.8L743.1 695.2L739.5 695.2L733.1 688.8L733.1 685.2ZM781.3 668.6L784.9 668.6L791.3 675.0L791.3 678.6L784.9 685.0L781.3 685.0L774.9 678.6L774.9 675.0ZM823.1 658.5L826.7 658.5L833.1 664.9L833.1 668.5L826.7 674.9L823.1 674.9L816.7 668.5L816.7 664.9ZM864.9 648.5L868.5 648.5L874.9 654.9L874.9 658.5L868.5 664.9L864.9 664.9L858.5 658.5L858.5 654.9ZM906.7 638.5L910.3 638.5L916.7 644.9L916.7 648.5L910.3 654.9L906.7 654.9L900.3 648.5L900.3 644.9ZM948.5 628.6L952.1 628.6L958.5 635.0L958.5 638.6L952.1 645.0L948.5 645.0L942.1 638.6L942.1 635.0ZM990.3 618.8L993.9 618.8L1000.3 625.2L1000.3 628.8L993.9 635.2L990.3 635.2L983.9 628.8L983.9 625.2ZM1032.1 609.0L1035.7 609.0L1042.1 615.4L1042.1 619.0L1035.7 625.4L1032.1 625.4L1025.7 619.0L1025.7 615.4ZM1073.9 599.3L1077.5 599.3L1083.9 605.7L1083.9 609.3L1077.5 615.7L1073.9 615.7L1067.5 609.3L1067.5 605.7ZM1115.7 589.6L1119.3 589.6L1125.7 596.0L1125.7 599.6L1119.3 606.0L1115.7 606.0L1109.3 599.6L1109.3 596.0ZM1157.5 580.0L1161.1 580.0L1167.5 586.4L1167.5 590.0L1161.1 596.4L1157.5 596.4L1151.1 590.0L1151.1 586.4ZM1199.3 570.4L1202.9 570.4L1209.3 576.8L1209.3 580.4L1202.9 586.8L1199.3 586.8L1192.9 580.4L1192.9 576.8ZM1241.1 560.9L1244.7 560.9L1251.1 567.3L1251.1 570.9L1244.7 577.3L1241.1 577.3L1234.7 570.9L1234.7 567.3ZM1282.9 551.4L1286.5 551.4L1292.9 557.8L1292.9 561.4L1286.5 567.8L1282.9 567.8L1276.5 561.4L1276.5 557.8ZM1324.7 541.9L1328.3 541.9L1334.7 548.3L1334.7 551.9L1328.3 558.3L1324.7 558.3L1318.3 551.9L1318.3 548.3ZM1366.5 532.4L1370.2 532.4L1376.6 538.8L1376.6 542.4L1370.2 548.8L1366.5 548.8L1360.2 542.4L1360.2 538.8ZM1408.4 523.0L1412.0 523.0L1418.4 529.4L1418.4 533.0L1412.0 539.4L1408.4 539.4L1402.0 533.0L1402.0 529.4ZM1450.2 513.6L1453.8 513.6L1460.2 520.0L1460.2 523.6L1453.8 530.0L1450.2 530.0L1443.8 523.6L1443.8 520.0ZM1492.0 504.2L1495.6 504.2L1502.0 510.6L1502.0 514.2L1495.6 520.6L1492.0 520.6L1485.6 514.2L1485.6 510.6ZM1533.8 494.8L1537.4 494.8L1543.8 501.2L1543.8 504.8L1537.4 511.2L1533.8 511.2L1527.4 504.8L1527.4 501.2ZM1575.6 485.5L1579.2 485.5L1585.6 491.9L1585.6 495.5L1579.2 501.9L1575.6 501.9L1569.2 495.5L1569.2 491.9ZM1617.4 476.1L1621.0 476.1L1627.4 482.5L1627.4 486.1L1621.0 492.5L1617.4 492.5L1611.0 486.1L1611.0 482.5ZM1659.2 466.7L1662.8 466.7L1669.2 473.1L1669.2 476.7L1662.8 483.1L1659.2 483.1L1652.8 476.7L1652.8 473.1ZM1701.0 457.4L1704.6 457.4L1711.0 463.8L1711.0 467.4L1704.6 473.8L1701.0 473.8L1694.6 467.4L1694.6 463.8ZM1742.8 448.0L1746.4 448.0L1752.8 454.4L1752.8 458.0L1746.4 464.4L1742.8 464.4L1736.4 458.0L1736.4 454.4ZM1784.6 438.7L1788.2 438.7L1794.6 445.0L1794.6 448.7L1788.2 455.1L1784.6 455.1L1778.2 448.7L1778.2 445.0ZM321.4 786.4L325.0 786.4L331.4 792.8L331.4 796.4L325.0 802.8L321.4 802.8L315.0 796.4L315.0 792.8ZM363.2 778.7L366.8 778.7L373.2 785.1L373.2 788.7L366.8 795.1L363.2 795.1L356.8 788.7L356.8 785.1ZM405.0 771.1L408.6 771.1L415.0 777.5L415.0 781.1L408.6 787.5L405.0 787.5L398.6 781.1L398.6 777.5ZM446.8 763.5L450.4 763.5L456.8 769.9L456.8 773.5L450.4 779.9L446.8 779.9L440.4 773.5L440.4 769.9ZM488.6 756.1L492.2 756.1L498.6 762.5L498.6 766.1L492.2 772.5L488.6 772.5L482.2 766.1L482.2 762.5ZM530.4 748.7L534.0 748.7L540.4 755.1L540.4 758.7L534.0 765.1L530.4 765.1L524.0 758.7L524.0 755.1ZM572.2 741.5L575.8 741.5L582.2 747.9L582.2 751.5L575.8 757.9L572.2 757.9L565.8 751.5L565.8 747.9ZM614.0 734.3L617.6 734.3L624.0 740.7L624.0 744.3L617.6 750.7L614.0 750.7L607.6 744.3L607.6 740.7ZM655.8 727.1L659.5 727.1L665.8 733.5L665.8 737.1L659.5 743.5L655.8 743.5L649.4 737.1L649.4 733.5ZM697.6 720.1L701.3 720.1L707.7 726.5L707.7 730.1L701.3 736.5L697.6 736.5L691.3 730.1L691.3 726.5ZM739.5 713.1L743.1 713.1L749.5 719.5L749.5 723.1L743.1 729.5L739.5 729.5L733.1 723.1L733.1 719.5ZM781.3 706.1L784.9 706.1L791.3 712.5L791.3 716.1L784.9 722.5L781.3 722.5L774.9 716.1L774.9 712.5ZM823.1 699.3L826.7 699.3L833.1 705.7L833.1 709.3L826.7 715.7L823.1 715.7L816.7 709.3L816.7 705.7ZM864.9 692.4L868.5 692.4L874.9 698.8L874.9 702.4L868.5 708.8L864.9 708.8L858.5 702.4L858.5 698.8ZM906.7 685.6L910.3 685.6L916.7 692.0L916.7 695.6L910.3 702.0L906.7 702.0L900.3 695.6L900.3 692.0ZM948.5 678.9L952.1 678.9L958.5 685.3L958.5 688.9L952.1 695.3L948.5 695.3L942.1 688.9L942.1 685.3ZM990.3 672.2L993.9 672.2L1000.3 678.6L1000.3 682.2L993.9 688.6L990.3 688.6L983.9 682.2L983.9 678.6ZM1032.1 665.5L1035.7 665.5L1042.1 671.9L1042.1 675.5L1035.7 681.9L1032.1 681.9L1025.7 675.5L1025.7 671.9ZM1073.9 658.9L1077.5 658.9L1083.9 665.3L1083.9 668.9L1077.5 675.3L1073.9 675.3L1067.5 668.9L1067.5 665.3ZM1115.7 652.2L1119.3 652.2L1125.7 658.6L1125.7 662.3L1119.3 668.6L1115.7 668.6L1109.3 662.3L1109.3 658.6ZM1157.5 645.7L1161.1 645.7L1167.5 652.1L1167.5 655.7L1161.1 662.1L1157.5 662.1L1151.1 655.7L1151.1 652.1ZM1199.3 639.1L1202.9 639.1L1209.3 645.5L1209.3 649.1L1202.9 655.5L1199.3 655.5L1192.9 649.1L1192.9 645.5ZM1241.1 632.5L1244.7 632.5L1251.1 638.9L1251.1 642.5L1244.7 648.9L1241.1 648.9L1234.7 642.5L1234.7 638.9ZM1282.9 626.0L1286.5 626.0L1292.9 632.4L1292.9 636.0L1286.5 642.4L1282.9 642.4L1276.5 636.0L1276.5 632.4ZM1324.7 619.5L1328.3 619.5L1334.7 625.9L1334.7 629.5L1328.3 635.9L1324.7 635.9L1318.3 629.5L1318.3 625.9ZM1366.5 612.9L1370.2 612.9L1376.6 619.3L1376.6 622.9L1370.2 629.3L1366.5 629.3L1360.2 622.9L1360.2 619.3ZM1408.4 606.4L1412.0 606.4L1418.4 612.8L1418.4 616.4L1412.0 622.8L1408.4 622.8L1402.0 616.4L1402.0 612.8ZM1450.2 599.9L1453.8 599.9L1460.2 606.3L1460.2 609.9L1453.8 616.3L1450.2 616.3L1443.8 609.9L1443.8 606.3ZM1492.0 593.4L1495.6 593.4L1502.0 599.8L1502.0 603.4L1495.6 609.8L1492.0 609.8L1485.6 603.4L1485.6 599.8ZM1533.8 586.8L1537.4 586.8L1543.8 593.2L1543.8 596.8L1537.4 603.2L1533.8 603.2L1527.4 596.8L1527.4 593.2ZM1575.6 580.3L1579.2 580.3L1585.6 586.7L1585.6 590.3L1579.2 596.7L1575.6 596.7L1569.2 590.3L1569.2 586.7ZM1617.4 573.7L1621.0 573.7L1627.4 580.1L1627.4 583.7L1621.0 590.1L1617.4 590.1L1611.0 583.7L1611.0 580.1ZM1659.2 567.1L1662.8 567.1L1669.2 573.5L1669.2 577.2L1662.8 583.5L1659.2 583.5L1652.8 577.2L1652.8 573.5ZM1701.0 560.6L1704.6 560.6L1711.0 567.0L1711.0 570.6L1704.6 577.0L1701.0 577.0L1694.6 570.6L1694.6 567.0ZM1742.8 553.9L1746.4 553.9L1752.8 560.3L1752.8 563.9L1746.4 570.3L1742.8 570.3L1736.4 563.9L1736.4 560.3ZM1784.6 547.3L1788.2 547.3L1794.6 553.7L1794.6 557.3L1788.2 563.7L1784.6 563.7L1778.2 557.3L1778.2 553.7ZM321.4 786.4L325.0 786.4L331.4 792.8L331.4 796.4L325.0 802.8L321.4 802.8L315.0 796.4L315.0 792.8ZM363.2 782.3L366.8 782.3L373.2 788.7L373.2 792.3L366.8 798.7L363.2 798.7L356.8 792.3L356.8 788.7ZM405.0 778.3L408.6 778.3L415.0 784.7L415.0 788.3L408.6 794.7L405.0 794.7L398.6 788.3L398.6 784.7ZM446.8 774.3L450.4 774.3L456.8 780.7L456.8 784.3L450.4 790.7L446.8 790.7L440.4 784.3L440.4 780.7ZM488.6 770.4L492.2 770.4L498.6 776.8L498.6 780.4L492.2 786.8L488.6 786.8L482.2 780.4L482.2 776.8ZM530.4 766.6L534.0 766.6L540.4 773.0L540.4 776.6L534.0 783.0L530.4 783.0L524.0 776.6L524.0 773.0ZM572.2 762.9L575.8 762.9L582.2 769.3L582.2 772.9L575.8 779.3L572.2 779.3L565.8 772.9L565.8 769.3ZM614.0 759.2L617.6 759.2L624.0 765.6L624.0 769.2L617.6 775.6L614.0 775.6L607.6 769.2L607.6 765.6ZM655.8 755.5L659.5 755.5L665.8 761.9L665.8 765.5L659.5 771.9L655.8 771.9L649.4 765.5L649.4 761.9ZM697.6 752.0L701.3 752.0L707.7 758.4L707.7 762.0L701.3 768.4L697.6 768.4L691.3 762.0L691.3 758.4ZM739.5 748.4L743.1 748.4L749.5 754.8L749.5 758.4L743.1 764.8L739.5 764.8L733.1 758.4L733.1 754.8ZM781.3 744.9L784.9 744.9L791.3 751.3L791.3 754.9L784.9 761.3L781.3 761.3L774.9 754.9L774.9 751.3ZM823.1 741.5L826.7 741.5L833.1 747.9L833.1 751.5L826.7 757.9L823.1 757.9L816.7 751.5L816.7 747.9ZM864.9 738.0L868.5 738.0L874.9 744.4L874.9 748.0L868.5 754.4L864.9 754.4L858.5 748.0L858.5 744.4ZM906.7 734.6L910.3 734.6L916.7 741.0L916.7 744.7L910.3 751.0L906.7 751.0L900.3 744.7L900.3 741.0ZM948.5 731.3L952.1 731.3L958.5 737.7L958.5 741.3L952.1 747.7L948.5 747.7L942.1 741.3L942.1 737.7ZM990.3 727.9L993.9 727.9L1000.3 734.3L1000.3 737.9L993.9 744.3L990.3 744.3L983.9 737.9L983.9 734.3ZM1032.1 724.6L1035.7 724.6L1042.1 731.0L1042.1 734.6L1035.7 741.0L1032.1 741.0L1025.7 734.6L1025.7 731.0ZM1073.9 721.3L1077.5 721.3L1083.9 727.7L1083.9 731.3L1077.5 737.7L1073.9 737.7L1067.5 731.3L1067.5 727.7ZM1115.7 718.0L1119.3 718.0L1125.7 724.4L1125.7 728.0L1119.3 734.4L1115.7 734.4L1109.3 728.0L1109.3 724.4ZM1157.5 714.7L1161.1 714.7L1167.5 721.1L1167.5 724.7L1161.1 731.1L1157.5 731.1L1151.1 724.7L1151.1 721.1ZM1199.3 711.4L1202.9 711.4L1209.3 717.8L1209.3 721.4L1202.9 727.8L1199.3 727.8L1192.9 721.4L1192.9 717.8ZM1241.1 708.1L1244.7 708.1L1251.1 714.5L1251.1 718.1L1244.7 724.5L1241.1 724.5L1234.7 718.1L1234.7 714.5ZM1282.9 704.9L1286.5 704.9L1292.9 711.3L1292.9 714.9L1286.5 721.3L1282.9 721.3L1276.5 714.9L1276.5 711.3ZM1324.7 701.6L1328.3 701.6L1334.7 708.0L1334.7 711.6L1328.3 718.0L1324.7 718.0L1318.3 711.6L1318.3 708.0ZM1366.5 698.3L1370.2 698.3L1376.6 704.6L1376.6 708.3L1370.2 714.7L1366.5 714.7L1360.2 708.3L1360.2 704.6ZM1408.4 694.9L1412.0 694.9L1418.4 701.3L1418.4 704.9L1412.0 711.3L1408.4 711.3L1402.0 704.9L1402.0 701.3ZM1450.2 691.6L1453.8 691.6L1460.2 698.0L1460.2 701.6L1453.8 708.0L1450.2 708.0L1443.8 701.6L1443.8 698.0ZM1492.0 688.2L1495.6 688.2L1502.0 694.6L1502.0 698.2L1495.6 704.6L1492.0 704.6L1485.6 698.2L1485.6 694.6ZM1533.8 684.8L1537.4 684.8L1543.8 691.2L1543.8 694.8L1537.4 701.2L1533.8 701.2L1527.4 694.8L1527.4 691.2ZM1575.6 681.4L1579.2 681.4L1585.6 687.8L1585.6 691.4L1579.2 697.8L1575.6 697.8L1569.2 691.4L1569.2 687.8ZM1617.4 678.0L1621.0 678.0L1627.4 684.4L1627.4 688.0L1621.0 694.4L1617.4 694.4L1611.0 688.0L1611.0 684.4ZM1659.2 674.5L1662.8 674.5L1669.2 680.9L1669.2 684.5L1662.8 690.9L1659.2 690.9L1652.8 684.5L1652.8 680.9ZM1701.0 671.0L1704.6 671.0L1711.0 677.4L1711.0 681.0L1704.6 687.4L1701.0 687.4L1694.6 681.0L1694.6 677.4ZM1742.8 667.4L1746.4 667.4L1752.8 673.8L1752.8 677.4L1746.4 683.8L1742.8 683.8L1736.4 677.4L1736.4 673.8ZM1784.6 663.8L1788.2 663.8L1794.6 670.2L1794.6 673.8L1788.2 680.2L1784.6 680.2L1778.2 673.8L1778.2 670.2ZM321.4 786.4L325.0 786.4L331.4 792.8L331.4 796.4L325.0 802.8L321.4 802.8L315.0 796.4L315.0 792.8ZM363.2 811.4L366.8 811.4L373.2 817.8L373.2 821.5L366.8 827.8L363.2 827.8L356.8 821.5L356.8 817.8ZM405.0 836.9L408.6 836.9L415.0 843.3L415.0 846.9L408.6 853.3L405.0 853.3L398.6 846.9L398.6 843.3ZM446.8 862.7L450.4 862.7L456.8 869.1L456.8 872.7L450.4 879.1L446.8 879.1L440.4 872.7L440.4 869.1ZM488.6 889.0L492.2 889.0L498.6 895.4L498.6 899.0L492.2 905.4L488.6 905.4L482.2 899.0L482.2 895.4ZM530.4 915.7L534.0 915.7L540.4 922.1L540.4 925.7L534.0 932.1L530.4 932.1L524.0 925.7L524.0 922.1ZM572.2 942.8L575.8 942.8L582.2 949.2L582.2 952.8L575.8 959.2L572.2 959.2L565.8 952.8L565.8 949.2ZM614.0 970.5L617.6 970.5L624.0 976.9L624.0 980.5L617.6 986.9L614.0 986.9L607.6 980.5L607.6 976.9ZM655.8 998.6L659.5 998.6L665.8 1005.0L665.8 1008.6L659.5 1015.0L655.8 1015.0L649.4 1008.6L649.4 1005.0ZM697.6 1027.3L701.3 1027.3L707.7 1033.7L707.7 1037.3L701.3 1043.7L697.6 1043.7L691.3 1037.3L691.3 1033.7ZM739.5 1056.5L743.1 1056.5L749.5 1062.9L749.5 1066.5L743.1 1072.9L739.5 1072.9L733.1 1066.5L733.1 1062.9ZM781.3 1086.4L784.9 1086.4L791.3 1092.8L791.3 1096.4L784.9 1102.8L781.3 1102.8L774.9 1096.4L774.9 1092.8ZM823.1 1116.8L826.7 1116.8L833.1 1123.2L833.1 1126.8L826.7 1133.2L823.1 1133.2L816.7 1126.8L816.7 1123.2ZM864.9 1147.9L868.5 1147.9L874.9 1154.3L874.9 1157.9L868.5 1164.3L864.9 1164.3L858.5 1157.9L858.5 1154.3ZM906.7 1179.8L910.3 1179.8L916.7 1186.2L916.7 1189.8L910.3 1196.2L906.7 1196.2L900.3 1189.8L900.3 1186.2ZM948.5 1212.4L952.1 1212.4L958.5 1218.8L958.5 1222.4L952.1 1228.8L948.5 1228.8L942.1 1222.4L942.1 1218.8ZM990.3 1245.8L993.9 1245.8L1000.3 1252.2L1000.3 1255.8L993.9 1262.2L990.3 1262.2L983.9 1255.8L983.9 1252.2ZM1032.1 1280.1L1035.7 1280.1L1042.1 1286.5L1042.1 1290.1L1035.7 1296.5L1032.1 1296.5L1025.7 1290.1L1025.7 1286.5ZM1073.9 1315.3L1077.5 1315.3L1083.9 1321.7L1083.9 1325.3L1077.5 1331.7L1073.9 1331.7L1067.5 1325.3L1067.5 1321.7ZM1115.7 1351.6L1119.3 1351.6L1125.7 1357.9L1125.7 1361.6L1119.3 1368.0L1115.7 1368.0L1109.3 1361.6L1109.3 1357.9ZM1157.5 1388.9L1161.1 1388.9L1167.5 1395.3L1167.5 1398.9L1161.1 1405.3L1157.5 1405.3L1151.1 1398.9L1151.1 1395.3ZM1199.3 1427.5L1202.9 1427.5L1209.3 1433.9L1209.3 1437.5L1202.9 1443.9L1199.3 1443.9L1192.9 1437.5L1192.9 1433.9ZM1241.1 1467.5L1244.7 1467.5L1251.1 1473.9L1251.1 1477.5L1244.7 1483.9L1241.1 1483.9L1234.7 1477.5L1234.7 1473.9ZM1282.9 1508.9L1286.5 1508.9L1292.9 1515.3L1292.9 1518.9L1286.5 1525.3L1282.9 1525.3L1276.5 1518.9L1276.5 1515.3ZM1324.7 1552.0L1328.3 1552.0L1334.7 1558.4L1334.7 1562.0L1328.3 1568.4L1324.7 1568.4L1318.3 1562.0L1318.3 1558.4ZM1366.5 1597.0L1370.2 1597.0L1376.6 1603.4L1376.6 1607.0L1370.2 1613.4L1366.5 1613.4L1360.2 1607.0L1360.2 1603.4ZM1408.4 1644.2L1412.0 1644.2L1418.4 1650.6L1418.4 1654.2L1412.0 1660.6L1408.4 1660.6L1402.0 1654.2L1402.0 1650.6ZM1450.2 1693.9L1453.8 1693.9L1460.2 1700.3L1460.2 1703.9L1453.8 1710.3L1450.2 1710.3L1443.8 1703.9L1443.8 1700.3ZM1492.0 1746.5L1495.6 1746.5L1502.0 1752.9L1502.0 1756.5L1495.6 1762.9L1492.0 1762.9L1485.6 1756.5L1485.6 1752.9ZM1533.8 1802.7L1537.4 1802.7L1543.8 1809.1L1543.8 1812.7L1537.4 1819.1L1533.8 1819.1L1527.4 1812.7L1527.4 1809.1ZM1575.6 1863.3L1579.2 1863.3L1585.6 1869.7L1585.6 1873.3L1579.2 1879.7L1575.6 1879.7L1569.2 1873.3L1569.2 1869.7ZM1617.4 1929.4L1621.0 1929.4L1627.4 1935.8L1627.4 1939.4L1621.0 1945.8L1617.4 1945.8L1611.0 1939.4L1611.0 1935.8ZM1659.2 2003.0L1662.8 2003.0L1669.2 2009.4L1669.2 2013.1L1662.8 2019.4L1659.2 2019.4L1652.8 2013.1L1652.8 2009.4ZM1701.0 2087.5L1704.6 2087.5L1711.0 2093.9L1711.0 2097.5L1704.6 2103.9L1701.0 2103.9L1694.6 2097.5L1694.6 2093.9ZM1742.8 2189.6L1746.4 2189.6L1752.8 2196.0L1752.8 2199.6L1746.4 2206.0L1742.8 2206.0L1736.4 2199.6L1736.4 2196.0ZM1784.6 2329.8L1788.2 2329.8L1794.6 2336.2L1794.6 2339.8L1788.2 2346.2L1784.6 2346.2L1778.2 2339.8L1778.2 2336.2ZM321.4 786.4L325.0 786.4L331.4 792.8L331.4 796.4L325.0 802.8L321.4 802.8L315.0 796.4L315.0 792.8ZM363.2 815.1L366.8 815.1L373.2 821.5L373.2 825.1L366.8 831.5L363.2 831.5L356.8 825.1L356.8 821.5ZM405.0 844.3L408.6 844.3L415.0 850.7L415.0 854.3L408.6 860.7L405.0 860.7L398.6 854.3L398.6 850.7ZM446.8 874.0L450.4 874.0L456.8 880.4L456.8 884.0L450.4 890.4L446.8 890.4L440.4 884.0L440.4 880.4ZM488.6 904.3L492.2 904.3L498.6 910.7L498.6 914.3L492.2 920.7L488.6 920.7L482.2 914.3L482.2 910.7ZM530.4 935.2L534.0 935.2L540.4 941.6L540.4 945.2L534.0 951.6L530.4 951.6L524.0 945.2L524.0 941.6ZM572.2 966.6L575.8 966.6L582.2 973.0L582.2 976.6L575.8 983.0L572.2 983.0L565.8 976.6L565.8 973.0ZM614.0 998.7L617.6 998.7L624.0 1005.1L624.0 1008.7L617.6 1015.1L614.0 1015.1L607.6 1008.7L607.6 1005.1ZM655.8 1031.5L659.5 1031.5L665.8 1037.9L665.8 1041.5L659.5 1047.9L655.8 1047.9L649.4 1041.5L649.4 1037.9ZM697.6 1065.1L701.3 1065.1L707.7 1071.4L707.7 1075.1L701.3 1081.5L697.6 1081.5L691.3 1075.1L691.3 1071.4ZM739.5 1099.4L743.1 1099.4L749.5 1105.8L749.5 1109.4L743.1 1115.8L739.5 1115.8L733.1 1109.4L733.1 1105.8ZM781.3 1134.5L784.9 1134.5L791.3 1140.9L791.3 1144.5L784.9 1150.9L781.3 1150.9L774.9 1144.5L774.9 1140.9ZM823.1 1170.5L826.7 1170.5L833.1 1176.9L833.1 1180.6L826.7 1186.9L823.1 1186.9L816.7 1180.6L816.7 1176.9ZM864.9 1207.6L868.5 1207.6L874.9 1214.0L874.9 1217.6L868.5 1224.0L864.9 1224.0L858.5 1217.6L858.5 1214.0ZM906.7 1245.6L910.3 1245.6L916.7 1252.0L916.7 1255.6L910.3 1262.0L906.7 1262.0L900.3 1255.6L900.3 1252.0ZM948.5 1284.8L952.1 1284.8L958.5 1291.2L958.5 1294.8L952.1 1301.2L948.5 1301.2L942.1 1294.8L942.1 1291.2ZM990.3 1325.2L993.9 1325.2L1000.3 1331.6L1000.3 1335.2L993.9 1341.6L990.3 1341.6L983.9 1335.2L983.9 1331.6ZM1032.1 1367.1L1035.7 1367.1L1042.1 1373.4L1042.1 1377.1L1035.7 1383.5L1032.1 1383.5L1025.7 1377.1L1025.7 1373.4ZM1073.9 1410.4L1077.5 1410.4L1083.9 1416.8L1083.9 1420.4L1077.5 1426.8L1073.9 1426.8L1067.5 1420.4L1067.5 1416.8ZM1115.7 1455.4L1119.3 1455.4L1125.7 1461.8L1125.7 1465.4L1119.3 1471.8L1115.7 1471.8L1109.3 1465.4L1109.3 1461.8ZM1157.5 1502.3L1161.1 1502.3L1167.5 1508.7L1167.5 1512.3L1161.1 1518.7L1157.5 1518.7L1151.1 1512.3L1151.1 1508.7ZM1199.3 1551.4L1202.9 1551.4L1209.3 1557.7L1209.3 1561.4L1202.9 1567.8L1199.3 1567.8L1192.9 1561.4L1192.9 1557.7ZM1241.1 1602.9L1244.7 1602.9L1251.1 1609.3L1251.1 1612.9L1244.7 1619.3L1241.1 1619.3L1234.7 1612.9L1234.7 1609.3ZM1282.9 1657.3L1286.5 1657.3L1292.9 1663.7L1292.9 1667.3L1286.5 1673.7L1282.9 1673.7L1276.5 1667.3L1276.5 1663.7ZM1324.7 1715.2L1328.3 1715.2L1334.7 1721.6L1334.7 1725.2L1328.3 1731.6L1324.7 1731.6L1318.3 1725.2L1318.3 1721.6ZM1366.5 1777.2L1370.2 1777.2L1376.6 1783.6L1376.6 1787.2L1370.2 1793.6L1366.5 1793.6L1360.2 1787.2L1360.2 1783.6ZM1408.4 1844.5L1412.0 1844.5L1418.4 1850.9L1418.4 1854.5L1412.0 1860.9L1408.4 1860.9L1402.0 1854.5L1402.0 1850.9ZM1450.2 1918.5L1453.8 1918.5L1460.2 1924.9L1460.2 1928.5L1453.8 1934.9L1450.2 1934.9L1443.8 1928.5L1443.8 1924.9ZM1492.0 2002.0L1495.6 2002.0L1502.0 2008.4L1502.0 2012.0L1495.6 2018.4L1492.0 2018.4L1485.6 2012.0L1485.6 2008.4ZM1533.8 2099.6L1537.4 2099.6L1543.8 2106.0L1543.8 2109.6L1537.4 2116.0L1533.8 2116.0L1527.4 2109.6L1527.4 2106.0ZM1575.6 2222.8L1579.2 2222.8L1585.6 2229.2L1585.6 2232.8L1579.2 2239.2L1575.6 2239.2L1569.2 2232.8L1569.2 2229.2ZM1617.4 2422.0L1621.0 2422.0L1627.4 2428.4L1627.4 2432.0L1621.0 2438.4L1617.4 2438.4L1611.0 2432.0L1611.0 2428.4ZM321.4 786.4L325.0 786.4L331.4 792.8L331.4 796.4L325.0 802.8L321.4 802.8L315.0 796.4L315.0 792.8ZM363.2 818.7L366.8 818.7L373.2 825.1L373.2 828.7L366.8 835.1L363.2 835.1L356.8 828.7L356.8 825.1ZM405.0 851.6L408.6 851.6L415.0 858.0L415.0 861.6L408.6 868.0L405.0 868.0L398.6 861.6L398.6 858.0ZM446.8 885.3L450.4 885.3L456.8 891.7L456.8 895.3L450.4 901.7L446.8 901.7L440.4 895.3L440.4 891.7ZM488.6 919.6L492.2 919.6L498.6 926.0L498.6 929.6L492.2 936.0L488.6 936.0L482.2 929.6L482.2 926.0ZM530.4 954.7L534.0 954.7L540.4 961.1L540.4 964.7L534.0 971.1L530.4 971.1L524.0 964.7L524.0 961.1ZM572.2 990.6L575.8 990.6L582.2 997.0L582.2 1000.7L575.8 1007.0L572.2 1007.0L565.8 1000.7L565.8 997.0ZM614.0 1027.4L617.6 1027.4L624.0 1033.8L624.0 1037.4L617.6 1043.8L614.0 1043.8L607.6 1037.4L607.6 1033.8ZM655.8 1065.2L659.5 1065.2L665.8 1071.6L665.8 1075.2L659.5 1081.6L655.8 1081.6L649.4 1075.2L649.4 1071.6ZM697.6 1103.9L701.3 1103.9L707.7 1110.3L707.7 1113.9L701.3 1120.3L697.6 1120.3L691.3 1113.9L691.3 1110.3ZM739.5 1143.7L743.1 1143.7L749.5 1150.1L749.5 1153.7L743.1 1160.1L739.5 1160.1L733.1 1153.7L733.1 1150.1ZM781.3 1184.6L784.9 1184.6L791.3 1191.0L791.3 1194.6L784.9 1201.0L781.3 1201.0L774.9 1194.6L774.9 1191.0ZM823.1 1226.8L826.7 1226.8L833.1 1233.2L833.1 1236.8L826.7 1243.2L823.1 1243.2L816.7 1236.8L816.7 1233.2ZM864.9 1270.4L868.5 1270.4L874.9 1276.8L874.9 1280.4L868.5 1286.8L864.9 1286.8L858.5 1280.4L858.5 1276.8ZM906.7 1315.6L910.3 1315.6L916.7 1322.0L916.7 1325.6L910.3 1332.0L906.7 1332.0L900.3 1325.6L900.3 1322.0ZM948.5 1362.4L952.1 1362.4L958.5 1368.8L958.5 1372.4L952.1 1378.8L948.5 1378.8L942.1 1372.4L942.1 1368.8ZM990.3 1411.1L993.9 1411.1L1000.3 1417.5L1000.3 1421.1L993.9 1427.5L990.3 1427.5L983.9 1421.1L983.9 1417.5ZM1032.1 1461.9L1035.7 1461.9L1042.1 1468.3L1042.1 1471.9L1035.7 1478.3L1032.1 1478.3L1025.7 1471.9L1025.7 1468.3ZM1073.9 1515.2L1077.5 1515.2L1083.9 1521.6L1083.9 1525.2L1077.5 1531.6L1073.9 1531.6L1067.5 1525.2L1067.5 1521.6ZM1115.7 1571.3L1119.3 1571.3L1125.7 1577.7L1125.7 1581.3L1119.3 1587.7L1115.7 1587.7L1109.3 1581.3L1109.3 1577.7ZM1157.5 1630.7L1161.1 1630.7L1167.5 1637.1L1167.5 1640.7L1161.1 1647.1L1157.5 1647.1L1151.1 1640.7L1151.1 1637.1ZM1199.3 1694.1L1202.9 1694.1L1209.3 1700.5L1209.3 1704.1L1202.9 1710.5L1199.3 1710.5L1192.9 1704.1L1192.9 1700.5ZM1241.1 1762.3L1244.7 1762.3L1251.1 1768.7L1251.1 1772.3L1244.7 1778.7L1241.1 1778.7L1234.7 1772.3L1234.7 1768.7ZM1282.9 1836.8L1286.5 1836.8L1292.9 1843.2L1292.9 1846.8L1286.5 1853.2L1282.9 1853.2L1276.5 1846.8L1276.5 1843.2ZM1324.7 1919.5L1328.3 1919.5L1334.7 1925.9L1334.7 1929.5L1328.3 1935.9L1324.7 1935.9L1318.3 1929.5L1318.3 1925.9ZM1366.5 2014.1L1370.2 2014.1L1376.6 2020.5L1376.6 2024.1L1370.2 2030.5L1366.5 2030.5L1360.2 2024.1L1360.2 2020.5ZM1408.4 2127.9L1412.0 2127.9L1418.4 2134.3L1418.4 2137.9L1412.0 2144.3L1408.4 2144.3L1402.0 2137.9L1402.0 2134.3ZM1450.2 2281.8L1453.8 2281.8L1460.2 2288.2L1460.2 2291.9L1453.8 2298.2L1450.2 2298.2L1443.8 2291.9L1443.8 2288.2Z" fill="none" stroke="#000" stroke-width="3.1" stroke-linejoin="round"/>
<g fill="none" stroke-linecap="butt">
<line x1="327" y1="63" x2="327" y2="2617" stroke="#808080" stroke-width="10"/>
<line x1="322" y1="74.55" x2="2007" y2="74.55" stroke="#7a7a7a" stroke-width="9.5"/>
<line x1="2002.05" y1="70" x2="2002.05" y2="2616" stroke="#888" stroke-width="9.9"/>
<line x1="322" y1="2594.75" x2="2007" y2="2594.75" stroke="#777" stroke-width="12.7"/>
<line x1="330" y1="795.1" x2="2000" y2="795.1" stroke="#808080" stroke-width="9.6"/>
<line x1="304" y1="2594.5" x2="326.0" y2="2594.5" stroke="#000" stroke-width="3.4"/>
<line x1="304" y1="2232.5" x2="326.0" y2="2232.5" stroke="#000" stroke-width="3.4"/>
<line x1="304" y1="1872.0" x2="326.0" y2="1872.0" stroke="#000" stroke-width="3.4"/>
<line x1="304" y1="1512.5" x2="326.0" y2="1512.5" stroke="#000" stroke-width="3.4"/>
<line x1="304" y1="1155.0" x2="326.0" y2="1155.0" stroke="#000" stroke-width="3.4"/>
<line x1="304" y1="795.3" x2="326.0" y2="795.3" stroke="#000" stroke-width="3.4"/>
<line x1="304" y1="436.0" x2="326.0" y2="436.0" stroke="#000" stroke-width="3.4"/>
<line x1="304" y1="74.5" x2="326.0" y2="74.5" stroke="#000" stroke-width="3.4"/>
<line x1="326.0" y1="2594.5" x2="326.0" y2="2615" stroke="#000" stroke-width="3.4"/>
<line x1="743.5" y1="2594.5" x2="743.5" y2="2615" stroke="#000" stroke-width="3.4"/>
<line x1="1164.0" y1="2594.5" x2="1164.0" y2="2615" stroke="#000" stroke-width="3.4"/>
<line x1="1581.0" y1="2594.5" x2="1581.0" y2="2615" stroke="#000" stroke-width="3.4"/>
<line x1="2001.5" y1="2594.5" x2="2001.5" y2="2615" stroke="#000" stroke-width="3.4"/>
<line x1="325.55" y1="63" x2="325.55" y2="2617" stroke="#000" stroke-width="6.9"/>
<line x1="322" y1="74.35" x2="2007" y2="74.35" stroke="#000" stroke-width="3.2"/>
<line x1="2002.05" y1="70" x2="2002.05" y2="2616" stroke="#000" stroke-width="4"/>
<line x1="322" y1="2594.65" x2="2007" y2="2594.65" stroke="#000" stroke-width="6.1"/>
<line x1="330" y1="795.3" x2="2000" y2="795.3" stroke="#000" stroke-width="3.4"/>
</g>
<g font-family="Liberation Sans, Arial, sans-serif" font-weight="bold" font-size="60" text-anchor="end" fill="#000" stroke="#fff" stroke-width="0.8">
<text transform="translate(279 2611.5) scale(1 1.06)">0</text>
<text transform="translate(279 2252.5) scale(1 1.06)">20</text>
<text transform="translate(279 1892.0) scale(1 1.06)">40</text>
<text transform="translate(279 1532.5) scale(1 1.06)">60</text>
<text transform="translate(279 1175.0) scale(1 1.06)">80</text>
<text transform="translate(279 815.3) scale(1 1.06)">100</text>
<text transform="translate(279 454.5) scale(1 1.06)">120</text>
<text transform="translate(279 94.5) scale(1 1.06)">140</text>
</g>
<g font-family="Liberation Sans, Arial, sans-serif" font-weight="bold" font-size="60" text-anchor="middle" fill="#000" stroke="#fff" stroke-width="0.8">
<text transform="translate(325.5 2697) scale(1 1.05)">0</text>
<text transform="translate(743 2697) scale(1 1.05)">100</text>
<text transform="translate(1163 2697) scale(1 1.05)">200</text>
<text transform="translate(1580 2697) scale(1 1.05)">300</text>
<text transform="translate(1997 2697) scale(1 1.05)">400</text>
</g>
<text font-family="Liberation Sans, Arial, sans-serif" font-weight="bold" font-size="92" y="2839"><tspan x="1065.5">t </tspan><tspan x="1118.5">(μs)</tspan></text>
<text font-family="Liberation Sans, Arial, sans-serif" font-weight="bold" font-size="92" transform="translate(110 1478) rotate(-90)"><tspan x="0">R </tspan><tspan x="82.8">(nm)</tspan></text>
<text font-family="Liberation Sans, Arial, sans-serif" font-weight="bold" font-size="83" x="367.5" y="184">oversaturated</text>
<text font-family="Liberation Sans, Arial, sans-serif" font-weight="bold" font-size="83" x="371" y="2526">undersaturated</text>
<text font-family="Liberation Sans, Arial, sans-serif" font-size="79" fill="#000"><tspan x="1797" y="461">1.3</tspan><tspan x="1911" y="461">c</tspan><tspan x="1951" y="471" font-size="58">s</tspan></text>
<text font-family="Liberation Sans, Arial, sans-serif" font-size="79" fill="#000"><tspan x="1791" y="579">1.2</tspan><tspan x="1908" y="579">c</tspan><tspan x="1947" y="589" font-size="58">s</tspan></text>
<text font-family="Liberation Sans, Arial, sans-serif" font-size="79" fill="#000"><tspan x="1798" y="704">1.1</tspan><tspan x="1905" y="704">c</tspan><tspan x="1945" y="714" font-size="58">s</tspan></text>
<text font-family="Liberation Sans, Arial, sans-serif" font-size="79" fill="#000"><tspan x="1346" y="2376">0.7</tspan><tspan x="1452" y="2376">c</tspan><tspan x="1492" y="2386" font-size="58">s</tspan></text>
<text font-family="Liberation Sans, Arial, sans-serif" font-size="79" fill="#000"><tspan x="1519" y="2515.5">0.8</tspan><tspan x="1633" y="2515.5">c</tspan><tspan x="1673" y="2525.5" font-size="58">s</tspan></text>
<text font-family="Liberation Sans, Arial, sans-serif" font-size="79" fill="#000"><tspan x="1703.5" y="2420">0.9</tspan><tspan x="1815" y="2420">c</tspan><tspan x="1857" y="2430" font-size="58">s</tspan></text>
<text font-family="Liberation Sans, Arial, sans-serif" font-size="79" fill="#000"><tspan x="1752" y="868">c</tspan><tspan x="1787.7" y="904.5" font-family="NanumGothic, Liberation Sans, sans-serif" font-size="81" stroke="#000" stroke-width="1.8">∞</tspan><tspan x="1846" y="873">= </tspan><tspan x="1904" y="868">c</tspan><tspan x="1945" y="879.5" font-size="58">s</tspan></text>
</svg></body></html>
